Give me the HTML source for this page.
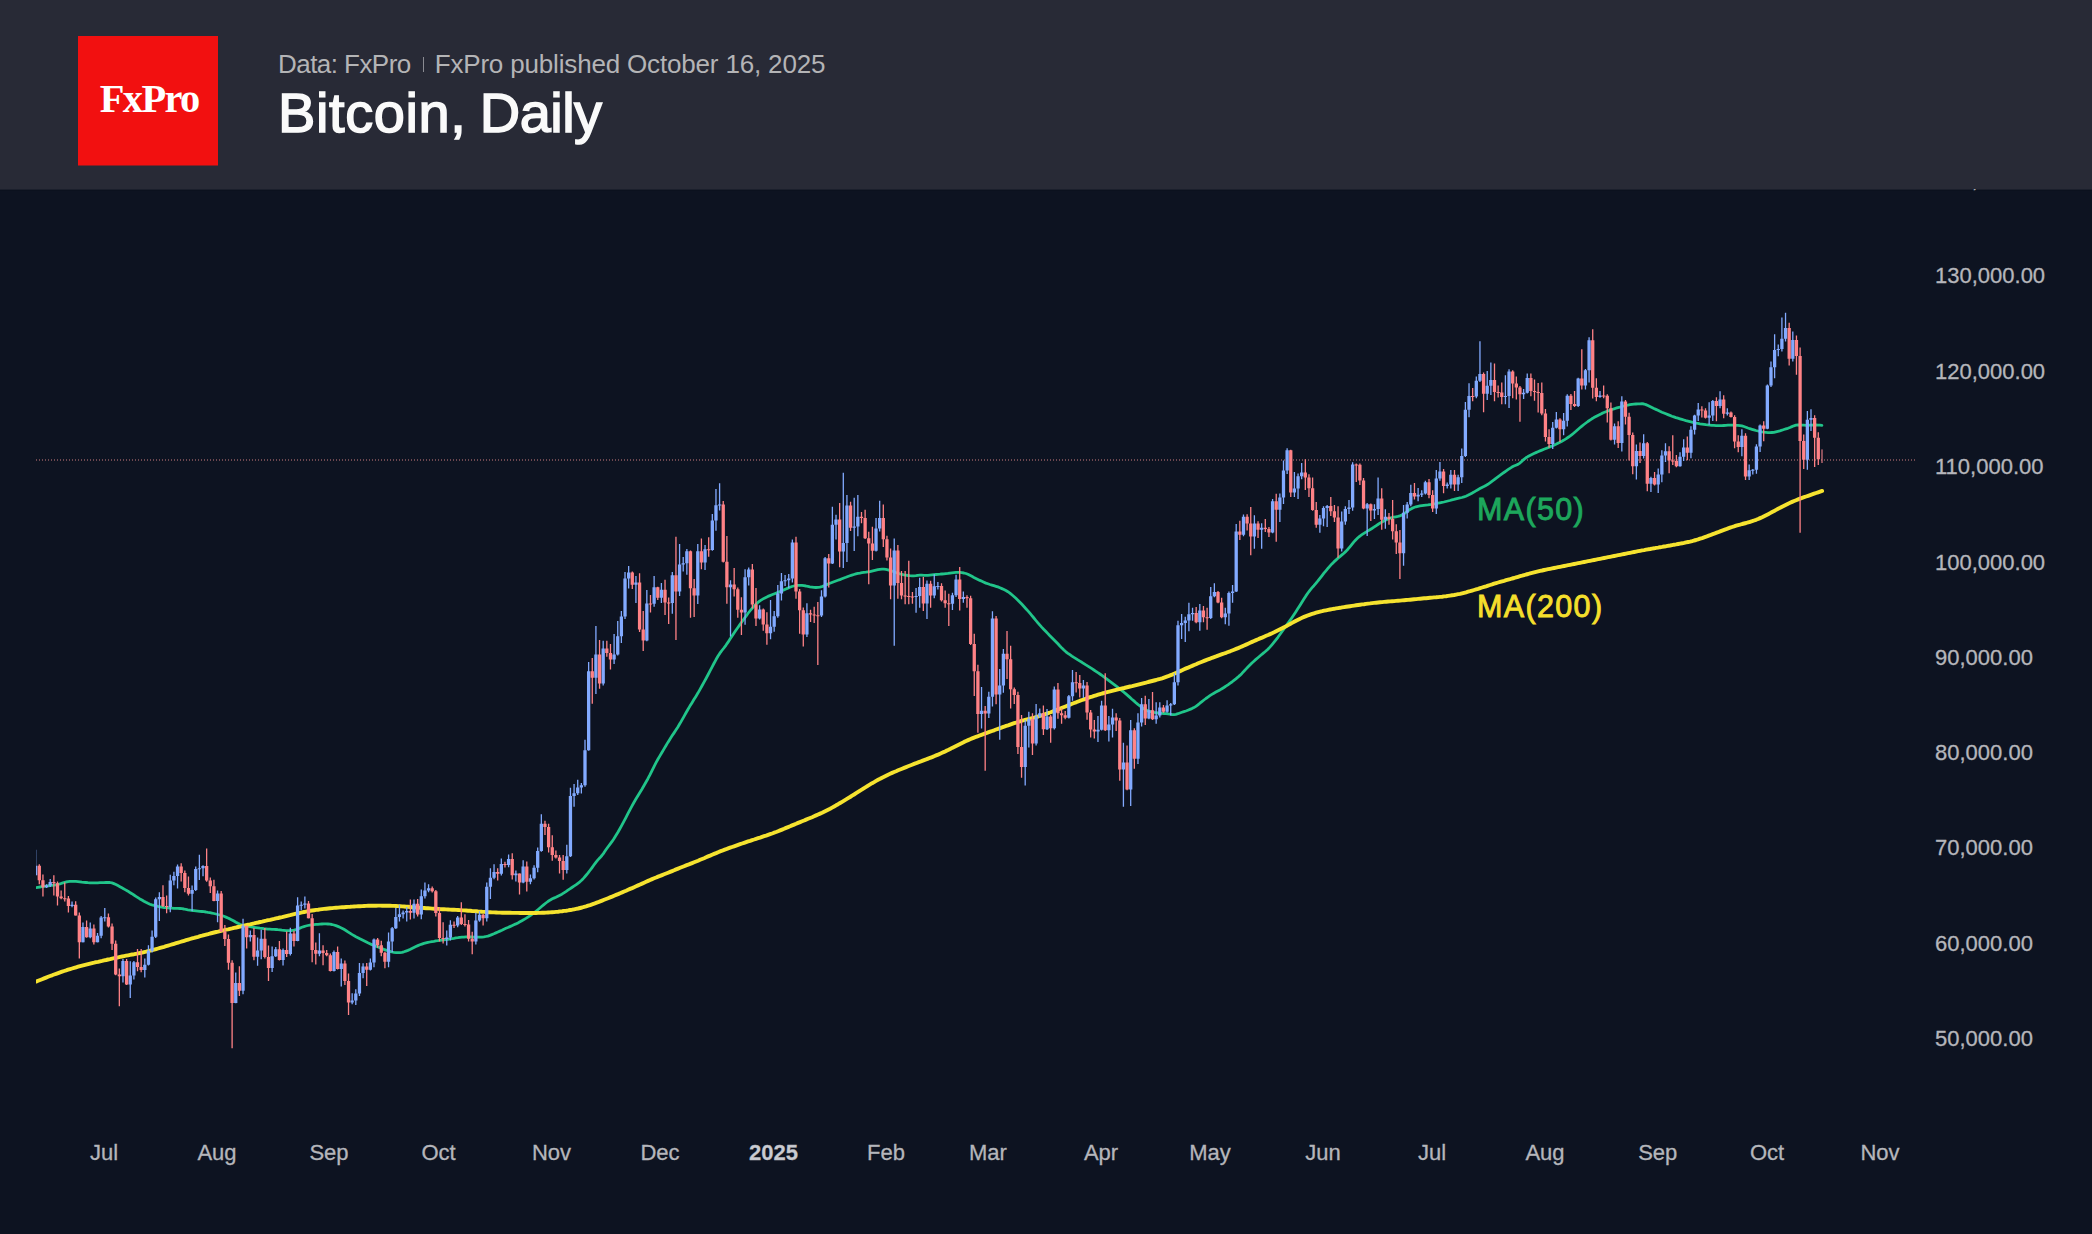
<!DOCTYPE html>
<html><head><meta charset="utf-8"><title>Bitcoin, Daily</title>
<style>
html,body{margin:0;padding:0;background:#0d1321;}
body{width:2092px;height:1234px;position:relative;overflow:hidden;font-family:"Liberation Sans",sans-serif;}
#hdr{position:absolute;left:0;top:0;width:2092px;height:189px;background:#282a36;z-index:2;}
#logo{position:absolute;left:78px;top:36px;width:140px;height:129px;background:#f21010;box-shadow:0 1px 0 #8d1d23;}
#logo span{position:absolute;left:1.2px;width:140px;text-align:center;top:42.7px;line-height:40px;font-family:"Liberation Serif",serif;font-weight:bold;font-size:40.5px;color:#fff;letter-spacing:-1.7px;}
#sub{position:absolute;left:278px;top:49px;font-size:26px;line-height:30px;color:#b4b4b6;white-space:nowrap;transform-origin:0 0;}
#sub i{display:inline-block;width:1px;height:15px;background:#8a8b92;margin:0 11px 0 12px;vertical-align:1px;}
#ttl{position:absolute;left:278px;top:81px;font-size:56px;line-height:64px;color:#fafafa;white-space:nowrap;-webkit-text-stroke:1.5px #fafafa;letter-spacing:0.6px;word-spacing:-2.8px;transform-origin:0 0;}
.yl{position:absolute;left:1935px;font-size:22px;line-height:24px;color:#b5b6bb;white-space:nowrap;-webkit-text-stroke:0.3px #b5b6bb;}
.xl{position:absolute;width:100px;margin-left:-50px;text-align:center;top:1140.5px;font-size:22px;line-height:24px;color:#b5b6bb;white-space:nowrap;-webkit-text-stroke:0.3px #b5b6bb;}
.xl b{color:#c9cbd2;}
.ma{position:absolute;font-size:30.5px;line-height:32px;white-space:nowrap;letter-spacing:1.35px;-webkit-text-stroke:0.9px;}
svg{position:absolute;left:0;top:0;}
</style></head><body>
<svg width="2092" height="1234" viewBox="0 0 2092 1234">
<rect x="0" y="189" width="2092" height="1" fill="#1b1f2c"/><rect x="0" y="190" width="2092" height="1" fill="#0b111e"/>
<clipPath id="cp"><rect x="36" y="191" width="1890" height="930"/></clipPath>
<line x1="36" y1="460" x2="1917" y2="460" stroke="#d07f80" stroke-width="1" stroke-dasharray="1 2"/>
<g clip-path="url(#cp)"><polyline fill="none" stroke="#21c58a" stroke-width="2.8" stroke-linejoin="round" stroke-linecap="round" points="35.9,887.6 37.9,887.3 39.9,887.0 41.9,886.7 43.9,886.4 45.9,886.1 47.9,885.8 49.9,885.5 51.9,885.3 53.9,885.1 55.9,884.8 57.9,884.4 59.9,883.9 61.9,883.2 63.9,882.6 65.9,882.0 67.9,881.7 69.9,881.4 71.9,881.3 73.9,881.3 75.9,881.4 77.9,881.6 79.9,881.9 81.9,882.2 83.9,882.4 85.9,882.5 87.9,882.7 89.9,882.8 91.9,882.8 93.9,882.9 95.9,882.9 97.9,882.8 99.9,882.7 101.9,882.6 103.9,882.6 105.9,882.5 107.9,882.4 109.9,882.5 111.9,882.9 113.9,883.6 115.9,884.5 117.9,885.6 119.9,886.7 121.9,887.8 123.9,888.9 125.9,890.1 127.9,891.2 129.9,892.5 131.9,893.7 133.9,895.0 135.9,896.3 137.9,897.6 139.9,898.9 141.9,900.0 143.9,901.2 145.9,902.3 147.9,903.3 149.9,904.2 151.9,904.9 153.9,905.4 155.9,905.9 157.9,906.4 159.9,906.8 161.9,907.2 163.9,907.5 165.9,907.7 167.9,907.9 169.9,908.1 171.9,908.2 173.9,908.3 175.9,908.4 177.9,908.4 179.9,908.5 181.9,908.7 183.9,909.0 185.9,909.4 187.9,909.8 189.9,910.1 191.9,910.5 193.9,910.7 195.9,910.9 197.9,911.1 199.9,911.3 201.9,911.5 203.9,911.7 205.9,912.0 207.9,912.4 209.9,912.7 211.9,913.1 213.9,913.5 215.9,914.0 217.9,914.5 219.9,915.0 221.9,915.6 223.9,916.3 225.9,917.1 227.9,918.0 229.9,918.9 231.9,919.9 233.9,921.0 235.9,922.2 237.9,923.3 239.9,924.3 241.9,925.0 243.9,925.5 245.9,925.9 247.9,926.3 249.9,926.6 251.9,927.0 253.9,927.3 255.9,927.6 257.9,927.9 259.9,928.2 261.9,928.4 263.9,928.7 265.9,928.9 267.9,929.1 269.9,929.2 271.9,929.3 273.9,929.4 275.9,929.5 277.9,929.7 279.9,929.8 281.9,930.1 283.9,930.3 285.9,930.6 287.9,930.7 289.9,930.7 291.9,930.5 293.9,930.1 295.9,929.6 297.9,928.9 299.9,928.1 301.9,927.3 303.9,926.6 305.9,926.0 307.9,925.5 309.9,925.1 311.9,924.8 313.9,924.6 315.9,924.4 317.9,924.3 319.9,924.1 321.9,924.0 323.9,923.9 325.9,923.9 327.9,924.0 329.9,924.2 331.9,924.5 333.9,925.0 335.9,925.6 337.9,926.4 339.9,927.3 341.9,928.2 343.9,929.3 345.9,930.5 347.9,931.8 349.9,933.1 351.9,934.4 353.9,935.6 355.9,936.7 357.9,937.7 359.9,938.8 361.9,939.8 363.9,940.8 365.9,941.8 367.9,942.8 369.9,943.7 371.9,944.6 373.9,945.4 375.9,946.2 377.9,947.0 379.9,947.8 381.9,948.6 383.9,949.4 385.9,950.1 387.9,950.8 389.9,951.4 391.9,952.0 393.9,952.4 395.9,952.6 397.9,952.7 399.9,952.6 401.9,952.3 403.9,951.8 405.9,951.1 407.9,950.4 409.9,949.5 411.9,948.5 413.9,947.5 415.9,946.5 417.9,945.6 419.9,944.8 421.9,944.1 423.9,943.4 425.9,942.9 427.9,942.4 429.9,942.0 431.9,941.6 433.9,941.3 435.9,940.9 437.9,940.7 439.9,940.4 441.9,940.2 443.9,939.9 445.9,939.7 447.9,939.4 449.9,939.0 451.9,938.6 453.9,938.3 455.9,937.9 457.9,937.7 459.9,937.4 461.9,937.2 463.9,937.1 465.9,936.9 467.9,936.9 469.9,936.9 471.9,937.0 473.9,937.1 475.9,937.2 477.9,937.2 479.9,937.2 481.9,937.1 483.9,936.9 485.9,936.5 487.9,936.1 489.9,935.4 491.9,934.6 493.9,933.8 495.9,932.9 497.9,932.0 499.9,931.1 501.9,930.2 503.9,929.2 505.9,928.3 507.9,927.5 509.9,926.6 511.9,925.7 513.9,924.8 515.9,923.9 517.9,922.9 519.9,921.8 521.9,920.7 523.9,919.6 525.9,918.4 527.9,917.1 529.9,915.8 531.9,914.4 533.9,912.9 535.9,911.4 537.9,909.7 539.9,908.0 541.9,906.3 543.9,904.6 545.9,903.0 547.9,901.5 549.9,900.2 551.9,899.1 553.9,898.1 555.9,897.2 557.9,896.2 559.9,895.2 561.9,894.2 563.9,892.9 565.9,891.6 567.9,890.2 569.9,888.9 571.9,887.5 573.9,886.1 575.9,884.8 577.9,883.3 579.9,881.8 581.9,880.0 583.9,877.9 585.9,875.5 587.9,873.1 589.9,870.5 591.9,867.8 593.9,865.0 595.9,862.3 597.9,859.9 599.9,857.8 601.9,855.5 603.9,852.8 605.9,849.8 607.9,847.0 609.9,844.4 611.9,841.7 613.9,838.7 615.9,835.5 617.9,832.2 619.9,828.7 621.9,825.1 623.9,821.4 625.9,817.6 627.9,813.7 629.9,809.9 631.9,806.2 633.9,802.5 635.9,799.0 637.9,795.7 639.9,792.4 641.9,789.2 643.9,785.8 645.9,782.3 647.9,778.7 649.9,774.9 651.9,770.8 653.9,766.8 655.9,762.9 657.9,759.3 659.9,755.9 661.9,752.5 663.9,749.1 665.9,745.8 667.9,742.4 669.9,739.2 671.9,736.1 673.9,733.1 675.9,730.0 677.9,726.9 679.9,723.6 681.9,720.1 683.9,716.6 685.9,713.0 687.9,709.5 689.9,706.1 691.9,702.9 693.9,699.6 695.9,696.4 697.9,693.1 699.9,689.6 701.9,686.0 703.9,682.3 705.9,678.7 707.9,675.0 709.9,671.2 711.9,667.4 713.9,663.5 715.9,659.8 717.9,656.3 719.9,653.2 721.9,650.5 723.9,648.0 725.9,645.3 727.9,642.4 729.9,639.3 731.9,636.2 733.9,633.2 735.9,630.3 737.9,627.5 739.9,624.6 741.9,621.8 743.9,619.0 745.9,616.3 747.9,613.5 749.9,611.0 751.9,608.6 753.9,606.4 755.9,604.3 757.9,602.4 759.9,600.9 761.9,599.6 763.9,598.4 765.9,597.4 767.9,596.4 769.9,595.6 771.9,594.8 773.9,594.0 775.9,593.2 777.9,592.4 779.9,591.6 781.9,590.7 783.9,589.9 785.9,589.0 787.9,588.1 789.9,587.3 791.9,586.5 793.9,586.0 795.9,585.5 797.9,585.3 799.9,585.3 801.9,585.4 803.9,585.7 805.9,586.0 807.9,586.4 809.9,586.8 811.9,587.1 813.9,587.4 815.9,587.5 817.9,587.4 819.9,587.1 821.9,586.6 823.9,585.9 825.9,585.0 827.9,584.1 829.9,583.3 831.9,582.5 833.9,581.7 835.9,581.0 837.9,580.3 839.9,579.6 841.9,578.8 843.9,578.0 845.9,577.3 847.9,576.5 849.9,575.8 851.9,575.1 853.9,574.5 855.9,573.9 857.9,573.4 859.9,573.1 861.9,572.7 863.9,572.4 865.9,572.2 867.9,571.9 869.9,571.6 871.9,571.1 873.9,570.6 875.9,570.1 877.9,569.6 879.9,569.3 881.9,569.1 883.9,569.2 885.9,569.4 887.9,569.8 889.9,570.4 891.9,571.0 893.9,571.8 895.9,572.5 897.9,573.3 899.9,573.9 901.9,574.4 903.9,574.9 905.9,575.2 907.9,575.5 909.9,575.7 911.9,575.8 913.9,575.8 915.9,575.7 917.9,575.4 919.9,575.2 921.9,575.2 923.9,575.3 925.9,575.4 927.9,575.3 929.9,575.1 931.9,574.9 933.9,574.7 935.9,574.5 937.9,574.3 939.9,574.2 941.9,574.0 943.9,573.8 945.9,573.6 947.9,573.4 949.9,573.1 951.9,572.8 953.9,572.6 955.9,572.4 957.9,572.3 959.9,572.4 961.9,572.7 963.9,573.0 965.9,573.5 967.9,574.3 969.9,575.3 971.9,576.3 973.9,577.4 975.9,578.4 977.9,579.4 979.9,580.4 981.9,581.3 983.9,582.2 985.9,583.1 987.9,583.8 989.9,584.5 991.9,585.1 993.9,585.7 995.9,586.3 997.9,586.9 999.9,587.7 1001.9,588.6 1003.9,589.5 1005.9,590.5 1007.9,591.7 1009.9,593.1 1011.9,594.8 1013.9,596.5 1015.9,598.3 1017.9,600.2 1019.9,602.2 1021.9,604.3 1023.9,606.5 1025.9,608.7 1027.9,610.9 1029.9,613.2 1031.9,615.6 1033.9,618.0 1035.9,620.5 1037.9,622.9 1039.9,625.2 1041.9,627.4 1043.9,629.5 1045.9,631.5 1047.9,633.6 1049.9,635.7 1051.9,637.7 1053.9,639.7 1055.9,641.7 1057.9,643.8 1059.9,646.0 1061.9,648.1 1063.9,650.0 1065.9,651.8 1067.9,653.3 1069.9,654.7 1071.9,656.1 1073.9,657.4 1075.9,658.6 1077.9,659.9 1079.9,661.1 1081.9,662.3 1083.9,663.6 1085.9,664.9 1087.9,666.1 1089.9,667.4 1091.9,668.7 1093.9,670.0 1095.9,671.3 1097.9,672.7 1099.9,674.0 1101.9,675.4 1103.9,676.9 1105.9,678.4 1107.9,679.9 1109.9,681.4 1111.9,682.9 1113.9,684.4 1115.9,685.9 1117.9,687.4 1119.9,689.0 1121.9,690.6 1123.9,692.2 1125.9,693.9 1127.9,695.6 1129.9,697.4 1131.9,699.2 1133.9,700.9 1135.9,702.7 1137.9,704.4 1139.9,706.0 1141.9,707.5 1143.9,708.8 1145.9,709.9 1147.9,710.8 1149.9,711.4 1151.9,711.9 1153.9,712.4 1155.9,712.7 1157.9,713.0 1159.9,713.3 1161.9,713.4 1163.9,713.5 1165.9,713.6 1167.9,713.8 1169.9,714.2 1171.9,714.5 1173.9,714.6 1175.9,714.3 1177.9,713.7 1179.9,713.0 1181.9,712.3 1183.9,711.6 1185.9,711.0 1187.9,710.2 1189.9,709.4 1191.9,708.6 1193.9,707.6 1195.9,706.4 1197.9,704.9 1199.9,703.2 1201.9,701.6 1203.9,700.0 1205.9,698.5 1207.9,697.1 1209.9,695.7 1211.9,694.4 1213.9,693.2 1215.9,692.1 1217.9,691.0 1219.9,689.9 1221.9,688.7 1223.9,687.5 1225.9,686.1 1227.9,684.8 1229.9,683.4 1231.9,682.0 1233.9,680.4 1235.9,678.8 1237.9,677.2 1239.9,675.4 1241.9,673.4 1243.9,671.3 1245.9,669.1 1247.9,667.0 1249.9,665.0 1251.9,663.0 1253.9,661.2 1255.9,659.4 1257.9,657.7 1259.9,656.0 1261.9,654.3 1263.9,652.7 1265.9,651.0 1267.9,649.2 1269.9,647.1 1271.9,644.8 1273.9,642.4 1275.9,639.9 1277.9,637.3 1279.9,634.5 1281.9,631.7 1283.9,628.9 1285.9,626.2 1287.9,623.4 1289.9,620.6 1291.9,617.7 1293.9,614.7 1295.9,611.7 1297.9,608.6 1299.9,605.5 1301.9,602.3 1303.9,599.1 1305.9,595.9 1307.9,593.0 1309.9,590.3 1311.9,587.9 1313.9,585.7 1315.9,583.3 1317.9,580.9 1319.9,578.3 1321.9,575.8 1323.9,573.2 1325.9,570.8 1327.9,568.4 1329.9,566.1 1331.9,563.9 1333.9,561.9 1335.9,560.1 1337.9,558.3 1339.9,556.6 1341.9,554.9 1343.9,553.2 1345.9,551.4 1347.9,549.2 1349.9,546.8 1351.9,544.3 1353.9,541.9 1355.9,539.7 1357.9,537.8 1359.9,536.1 1361.9,534.7 1363.9,533.4 1365.9,532.1 1367.9,530.9 1369.9,529.7 1371.9,528.5 1373.9,527.2 1375.9,525.8 1377.9,524.5 1379.9,523.2 1381.9,522.0 1383.9,520.9 1385.9,519.9 1387.9,519.0 1389.9,518.3 1391.9,517.7 1393.9,517.2 1395.9,516.8 1397.9,516.4 1399.9,515.9 1401.9,515.0 1403.9,513.8 1405.9,512.3 1407.9,510.9 1409.9,509.5 1411.9,508.4 1413.9,507.5 1415.9,506.8 1417.9,506.3 1419.9,505.9 1421.9,505.6 1423.9,505.3 1425.9,505.1 1427.9,504.9 1429.9,504.6 1431.9,504.3 1433.9,503.9 1435.9,503.6 1437.9,503.2 1439.9,502.8 1441.9,502.4 1443.9,502.0 1445.9,501.5 1447.9,501.0 1449.9,500.5 1451.9,499.9 1453.9,499.4 1455.9,498.8 1457.9,498.3 1459.9,497.9 1461.9,497.5 1463.9,496.9 1465.9,496.2 1467.9,495.3 1469.9,494.3 1471.9,493.2 1473.9,492.1 1475.9,490.9 1477.9,489.7 1479.9,488.6 1481.9,487.5 1483.9,486.5 1485.9,485.4 1487.9,484.3 1489.9,482.9 1491.9,481.4 1493.9,479.9 1495.9,478.3 1497.9,476.8 1499.9,475.4 1501.9,473.9 1503.9,472.5 1505.9,471.1 1507.9,469.7 1509.9,468.4 1511.9,467.1 1513.9,466.0 1515.9,465.2 1517.9,464.4 1519.9,463.1 1521.9,461.2 1523.9,459.3 1525.9,457.8 1527.9,456.6 1529.9,455.5 1531.9,454.5 1533.9,453.5 1535.9,452.6 1537.9,451.7 1539.9,450.9 1541.9,450.1 1543.9,449.3 1545.9,448.5 1547.9,447.7 1549.9,446.9 1551.9,446.0 1553.9,445.2 1555.9,444.3 1557.9,443.3 1559.9,442.3 1561.9,441.2 1563.9,440.1 1565.9,438.9 1567.9,437.5 1569.9,436.1 1571.9,434.6 1573.9,433.0 1575.9,431.3 1577.9,429.5 1579.9,427.8 1581.9,426.1 1583.9,424.5 1585.9,423.0 1587.9,421.5 1589.9,420.1 1591.9,418.8 1593.9,417.6 1595.9,416.5 1597.9,415.4 1599.9,414.4 1601.9,413.4 1603.9,412.5 1605.9,411.7 1607.9,410.9 1609.9,410.2 1611.9,409.5 1613.9,408.9 1615.9,408.2 1617.9,407.6 1619.9,407.1 1621.9,406.5 1623.9,406.0 1625.9,405.5 1627.9,405.1 1629.9,404.7 1631.9,404.4 1633.9,404.2 1635.9,404.0 1637.9,403.9 1639.9,403.8 1641.9,403.7 1643.9,404.0 1645.9,404.6 1647.9,405.5 1649.9,406.5 1651.9,407.5 1653.9,408.5 1655.9,409.4 1657.9,410.3 1659.9,411.3 1661.9,412.2 1663.9,413.0 1665.9,413.8 1667.9,414.6 1669.9,415.4 1671.9,416.2 1673.9,416.9 1675.9,417.6 1677.9,418.2 1679.9,418.8 1681.9,419.4 1683.9,420.0 1685.9,420.6 1687.9,421.1 1689.9,421.6 1691.9,422.1 1693.9,422.6 1695.9,423.1 1697.9,423.4 1699.9,423.8 1701.9,424.1 1703.9,424.4 1705.9,424.7 1707.9,424.9 1709.9,425.1 1711.9,425.3 1713.9,425.4 1715.9,425.6 1717.9,425.7 1719.9,425.7 1721.9,425.6 1723.9,425.5 1725.9,425.4 1727.9,425.2 1729.9,425.2 1731.9,425.1 1733.9,425.2 1735.9,425.3 1737.9,425.4 1739.9,425.6 1741.9,425.9 1743.9,426.5 1745.9,427.2 1747.9,428.0 1749.9,428.7 1751.9,429.3 1753.9,429.9 1755.9,430.5 1757.9,431.0 1759.9,431.5 1761.9,431.9 1763.9,432.2 1765.9,432.4 1767.9,432.6 1769.9,432.7 1771.9,432.5 1773.9,432.3 1775.9,431.8 1777.9,431.3 1779.9,430.8 1781.9,430.2 1783.9,429.5 1785.9,428.9 1787.9,428.3 1789.9,427.5 1791.9,426.6 1793.9,425.8 1795.9,425.2 1797.9,425.0 1799.9,425.0 1801.9,425.1 1803.9,425.2 1805.9,425.3 1807.9,425.3 1809.9,425.2 1811.9,425.1 1813.9,425.0 1815.9,425.0 1817.9,425.1 1819.9,425.2 1821.9,425.4"/>
<polyline fill="none" stroke="#f6e32f" stroke-width="3.9" stroke-linejoin="round" stroke-linecap="round" points="36.1,981.6 38.1,980.8 40.1,980.0 42.1,979.2 44.1,978.4 46.1,977.6 48.1,976.8 50.1,976.0 52.1,975.3 54.1,974.5 56.1,973.8 58.1,973.1 60.1,972.4 62.1,971.7 64.1,971.0 66.1,970.4 68.1,969.7 70.1,969.1 72.1,968.5 74.1,967.9 76.1,967.3 78.1,966.7 80.1,966.1 82.1,965.6 84.1,965.1 86.1,964.6 88.1,964.1 90.1,963.6 92.1,963.1 94.1,962.7 96.1,962.2 98.1,961.8 100.1,961.3 102.1,960.9 104.1,960.4 106.1,960.0 108.1,959.5 110.1,959.1 112.1,958.6 114.1,958.2 116.1,957.8 118.1,957.3 120.1,956.9 122.1,956.5 124.1,956.1 126.1,955.7 128.1,955.3 130.1,954.9 132.1,954.5 134.1,954.2 136.1,953.8 138.1,953.4 140.1,953.0 142.1,952.6 144.1,952.1 146.1,951.7 148.1,951.2 150.1,950.7 152.1,950.2 154.1,949.7 156.1,949.1 158.1,948.5 160.1,947.9 162.1,947.3 164.1,946.8 166.1,946.2 168.1,945.6 170.1,945.0 172.1,944.4 174.1,943.8 176.1,943.2 178.1,942.6 180.1,942.0 182.1,941.4 184.1,940.8 186.1,940.2 188.1,939.6 190.1,939.0 192.1,938.4 194.1,937.9 196.1,937.3 198.1,936.8 200.1,936.2 202.1,935.7 204.1,935.1 206.1,934.6 208.1,934.1 210.1,933.5 212.1,933.0 214.1,932.5 216.1,932.0 218.1,931.6 220.1,931.1 222.1,930.6 224.1,930.2 226.1,929.7 228.1,929.3 230.1,928.8 232.1,928.4 234.1,927.9 236.1,927.5 238.1,927.0 240.1,926.6 242.1,926.1 244.1,925.7 246.1,925.2 248.1,924.7 250.1,924.3 252.1,923.8 254.1,923.4 256.1,922.9 258.1,922.5 260.1,922.0 262.1,921.6 264.1,921.1 266.1,920.7 268.1,920.2 270.1,919.8 272.1,919.3 274.1,918.9 276.1,918.4 278.1,918.0 280.1,917.5 282.1,917.1 284.1,916.6 286.1,916.1 288.1,915.6 290.1,915.2 292.1,914.7 294.1,914.2 296.1,913.7 298.1,913.3 300.1,912.8 302.1,912.4 304.1,912.0 306.1,911.6 308.1,911.2 310.1,910.8 312.1,910.5 314.1,910.2 316.1,909.9 318.1,909.7 320.1,909.4 322.1,909.1 324.1,908.9 326.1,908.7 328.1,908.5 330.1,908.3 332.1,908.1 334.1,907.9 336.1,907.7 338.1,907.6 340.1,907.4 342.1,907.3 344.1,907.2 346.1,907.0 348.1,906.9 350.1,906.8 352.1,906.6 354.1,906.5 356.1,906.4 358.1,906.3 360.1,906.2 362.1,906.1 364.1,906.0 366.1,905.9 368.1,905.8 370.1,905.8 372.1,905.7 374.1,905.7 376.1,905.7 378.1,905.6 380.1,905.6 382.1,905.7 384.1,905.7 386.1,905.7 388.1,905.7 390.1,905.8 392.1,905.9 394.1,905.9 396.1,906.0 398.1,906.1 400.1,906.2 402.1,906.4 404.1,906.5 406.1,906.7 408.1,906.8 410.1,907.0 412.1,907.2 414.1,907.3 416.1,907.5 418.1,907.6 420.1,907.8 422.1,907.9 424.1,908.0 426.1,908.2 428.1,908.3 430.1,908.4 432.1,908.6 434.1,908.7 436.1,908.8 438.1,908.9 440.1,909.1 442.1,909.2 444.1,909.3 446.1,909.4 448.1,909.5 450.1,909.6 452.1,909.7 454.1,909.8 456.1,909.9 458.1,910.0 460.1,910.1 462.1,910.3 464.1,910.4 466.1,910.5 468.1,910.7 470.1,910.8 472.1,911.0 474.1,911.1 476.1,911.3 478.1,911.5 480.1,911.6 482.1,911.8 484.1,911.9 486.1,912.0 488.1,912.2 490.1,912.3 492.1,912.4 494.1,912.4 496.1,912.5 498.1,912.6 500.1,912.6 502.1,912.7 504.1,912.7 506.1,912.8 508.1,912.8 510.1,912.8 512.1,912.9 514.1,912.9 516.1,912.9 518.1,912.9 520.1,913.0 522.1,913.0 524.1,913.0 526.1,913.0 528.1,913.0 530.1,913.0 532.1,913.0 534.1,913.0 536.1,913.0 538.1,912.9 540.1,912.9 542.1,912.8 544.1,912.7 546.1,912.6 548.1,912.5 550.1,912.4 552.1,912.2 554.1,912.1 556.1,911.9 558.1,911.7 560.1,911.4 562.1,911.2 564.1,910.9 566.1,910.7 568.1,910.4 570.1,910.0 572.1,909.7 574.1,909.3 576.1,908.9 578.1,908.5 580.1,908.0 582.1,907.5 584.1,906.9 586.1,906.4 588.1,905.7 590.1,905.1 592.1,904.4 594.1,903.7 596.1,902.9 598.1,902.2 600.1,901.4 602.1,900.6 604.1,899.8 606.1,899.0 608.1,898.2 610.1,897.4 612.1,896.6 614.1,895.7 616.1,894.9 618.1,894.1 620.1,893.2 622.1,892.4 624.1,891.5 626.1,890.7 628.1,889.8 630.1,888.9 632.1,888.1 634.1,887.2 636.1,886.3 638.1,885.4 640.1,884.5 642.1,883.6 644.1,882.7 646.1,881.8 648.1,880.9 650.1,880.0 652.1,879.1 654.1,878.3 656.1,877.5 658.1,876.6 660.1,875.9 662.1,875.1 664.1,874.3 666.1,873.5 668.1,872.7 670.1,871.9 672.1,871.1 674.1,870.3 676.1,869.4 678.1,868.6 680.1,867.8 682.1,867.0 684.1,866.2 686.1,865.4 688.1,864.7 690.1,863.9 692.1,863.1 694.1,862.3 696.1,861.5 698.1,860.7 700.1,859.8 702.1,859.0 704.1,858.2 706.1,857.3 708.1,856.4 710.1,855.6 712.1,854.7 714.1,853.9 716.1,853.1 718.1,852.2 720.1,851.4 722.1,850.7 724.1,849.9 726.1,849.2 728.1,848.4 730.1,847.7 732.1,847.0 734.1,846.3 736.1,845.6 738.1,844.9 740.1,844.2 742.1,843.5 744.1,842.8 746.1,842.1 748.1,841.4 750.1,840.8 752.1,840.1 754.1,839.5 756.1,838.8 758.1,838.2 760.1,837.6 762.1,836.9 764.1,836.2 766.1,835.6 768.1,834.9 770.1,834.2 772.1,833.5 774.1,832.7 776.1,832.0 778.1,831.2 780.1,830.4 782.1,829.6 784.1,828.8 786.1,827.9 788.1,827.1 790.1,826.3 792.1,825.4 794.1,824.6 796.1,823.8 798.1,822.9 800.1,822.1 802.1,821.3 804.1,820.5 806.1,819.6 808.1,818.8 810.1,818.0 812.1,817.2 814.1,816.3 816.1,815.4 818.1,814.5 820.1,813.6 822.1,812.7 824.1,811.7 826.1,810.7 828.1,809.7 830.1,808.7 832.1,807.6 834.1,806.5 836.1,805.3 838.1,804.2 840.1,803.0 842.1,801.8 844.1,800.6 846.1,799.4 848.1,798.2 850.1,797.0 852.1,795.7 854.1,794.5 856.1,793.2 858.1,791.9 860.1,790.6 862.1,789.4 864.1,788.1 866.1,786.9 868.1,785.6 870.1,784.4 872.1,783.2 874.1,782.1 876.1,780.9 878.1,779.8 880.1,778.8 882.1,777.7 884.1,776.7 886.1,775.7 888.1,774.7 890.1,773.8 892.1,772.9 894.1,772.0 896.1,771.2 898.1,770.3 900.1,769.5 902.1,768.7 904.1,767.9 906.1,767.1 908.1,766.3 910.1,765.5 912.1,764.7 914.1,763.9 916.1,763.2 918.1,762.4 920.1,761.7 922.1,760.9 924.1,760.1 926.1,759.4 928.1,758.6 930.1,757.8 932.1,757.1 934.1,756.2 936.1,755.4 938.1,754.6 940.1,753.7 942.1,752.8 944.1,751.9 946.1,750.9 948.1,750.0 950.1,749.0 952.1,747.9 954.1,746.9 956.1,745.9 958.1,744.9 960.1,743.9 962.1,742.9 964.1,741.9 966.1,741.0 968.1,740.1 970.1,739.2 972.1,738.4 974.1,737.6 976.1,736.8 978.1,736.1 980.1,735.3 982.1,734.6 984.1,733.9 986.1,733.2 988.1,732.4 990.1,731.7 992.1,731.0 994.1,730.3 996.1,729.5 998.1,728.8 1000.1,728.1 1002.1,727.4 1004.1,726.7 1006.1,725.9 1008.1,725.3 1010.1,724.6 1012.1,723.9 1014.1,723.2 1016.1,722.6 1018.1,721.9 1020.1,721.3 1022.1,720.7 1024.1,720.2 1026.1,719.6 1028.1,719.1 1030.1,718.6 1032.1,718.1 1034.1,717.6 1036.1,717.0 1038.1,716.5 1040.1,715.9 1042.1,715.3 1044.1,714.6 1046.1,713.9 1048.1,713.2 1050.1,712.5 1052.1,711.7 1054.1,710.9 1056.1,710.1 1058.1,709.4 1060.1,708.6 1062.1,707.8 1064.1,707.0 1066.1,706.2 1068.1,705.4 1070.1,704.6 1072.1,703.8 1074.1,703.0 1076.1,702.3 1078.1,701.5 1080.1,700.7 1082.1,700.0 1084.1,699.3 1086.1,698.6 1088.1,697.9 1090.1,697.2 1092.1,696.6 1094.1,695.9 1096.1,695.3 1098.1,694.7 1100.1,694.1 1102.1,693.5 1104.1,693.0 1106.1,692.4 1108.1,691.9 1110.1,691.4 1112.1,690.9 1114.1,690.4 1116.1,689.9 1118.1,689.4 1120.1,688.9 1122.1,688.4 1124.1,688.0 1126.1,687.5 1128.1,687.0 1130.1,686.5 1132.1,686.1 1134.1,685.6 1136.1,685.1 1138.1,684.6 1140.1,684.1 1142.1,683.6 1144.1,683.1 1146.1,682.6 1148.1,682.0 1150.1,681.5 1152.1,681.0 1154.1,680.5 1156.1,680.0 1158.1,679.4 1160.1,678.9 1162.1,678.3 1164.1,677.6 1166.1,676.9 1168.1,676.2 1170.1,675.4 1172.1,674.6 1174.1,673.7 1176.1,672.9 1178.1,672.0 1180.1,671.1 1182.1,670.2 1184.1,669.3 1186.1,668.4 1188.1,667.6 1190.1,666.7 1192.1,665.9 1194.1,665.0 1196.1,664.2 1198.1,663.3 1200.1,662.5 1202.1,661.7 1204.1,660.9 1206.1,660.1 1208.1,659.3 1210.1,658.6 1212.1,657.8 1214.1,657.1 1216.1,656.4 1218.1,655.6 1220.1,654.9 1222.1,654.2 1224.1,653.5 1226.1,652.8 1228.1,652.0 1230.1,651.3 1232.1,650.5 1234.1,649.7 1236.1,648.9 1238.1,648.1 1240.1,647.2 1242.1,646.4 1244.1,645.5 1246.1,644.6 1248.1,643.7 1250.1,642.8 1252.1,641.9 1254.1,641.0 1256.1,640.1 1258.1,639.3 1260.1,638.4 1262.1,637.6 1264.1,636.7 1266.1,635.8 1268.1,635.0 1270.1,634.1 1272.1,633.2 1274.1,632.3 1276.1,631.3 1278.1,630.3 1280.1,629.3 1282.1,628.3 1284.1,627.2 1286.1,626.2 1288.1,625.1 1290.1,624.0 1292.1,622.9 1294.1,621.8 1296.1,620.7 1298.1,619.7 1300.1,618.7 1302.1,617.8 1304.1,616.9 1306.1,616.1 1308.1,615.3 1310.1,614.6 1312.1,613.9 1314.1,613.3 1316.1,612.7 1318.1,612.1 1320.1,611.6 1322.1,611.2 1324.1,610.7 1326.1,610.3 1328.1,609.9 1330.1,609.5 1332.1,609.1 1334.1,608.8 1336.1,608.4 1338.1,608.1 1340.1,607.8 1342.1,607.4 1344.1,607.1 1346.1,606.8 1348.1,606.5 1350.1,606.2 1352.1,605.9 1354.1,605.6 1356.1,605.3 1358.1,605.0 1360.1,604.7 1362.1,604.4 1364.1,604.2 1366.1,603.9 1368.1,603.6 1370.1,603.4 1372.1,603.1 1374.1,602.9 1376.1,602.7 1378.1,602.5 1380.1,602.3 1382.1,602.1 1384.1,601.9 1386.1,601.7 1388.1,601.5 1390.1,601.4 1392.1,601.2 1394.1,601.1 1396.1,600.9 1398.1,600.7 1400.1,600.6 1402.1,600.4 1404.1,600.2 1406.1,600.0 1408.1,599.9 1410.1,599.7 1412.1,599.5 1414.1,599.3 1416.1,599.1 1418.1,598.9 1420.1,598.7 1422.1,598.5 1424.1,598.3 1426.1,598.2 1428.1,598.0 1430.1,597.8 1432.1,597.6 1434.1,597.4 1436.1,597.3 1438.1,597.1 1440.1,596.9 1442.1,596.7 1444.1,596.4 1446.1,596.2 1448.1,595.9 1450.1,595.6 1452.1,595.3 1454.1,595.0 1456.1,594.6 1458.1,594.2 1460.1,593.8 1462.1,593.3 1464.1,592.8 1466.1,592.3 1468.1,591.7 1470.1,591.2 1472.1,590.6 1474.1,590.0 1476.1,589.4 1478.1,588.8 1480.1,588.1 1482.1,587.5 1484.1,586.9 1486.1,586.3 1488.1,585.6 1490.1,585.0 1492.1,584.4 1494.1,583.7 1496.1,583.1 1498.1,582.5 1500.1,581.9 1502.1,581.3 1504.1,580.8 1506.1,580.2 1508.1,579.6 1510.1,579.1 1512.1,578.5 1514.1,578.0 1516.1,577.4 1518.1,576.8 1520.1,576.2 1522.1,575.7 1524.1,575.1 1526.1,574.5 1528.1,574.0 1530.1,573.4 1532.1,572.9 1534.1,572.4 1536.1,571.9 1538.1,571.4 1540.1,570.9 1542.1,570.5 1544.1,570.0 1546.1,569.6 1548.1,569.2 1550.1,568.8 1552.1,568.4 1554.1,568.0 1556.1,567.6 1558.1,567.2 1560.1,566.8 1562.1,566.4 1564.1,566.0 1566.1,565.6 1568.1,565.2 1570.1,564.8 1572.1,564.4 1574.1,564.0 1576.1,563.6 1578.1,563.2 1580.1,562.8 1582.1,562.4 1584.1,562.0 1586.1,561.6 1588.1,561.2 1590.1,560.8 1592.1,560.4 1594.1,560.0 1596.1,559.6 1598.1,559.2 1600.1,558.8 1602.1,558.4 1604.1,558.0 1606.1,557.6 1608.1,557.2 1610.1,556.8 1612.1,556.4 1614.1,556.0 1616.1,555.6 1618.1,555.2 1620.1,554.8 1622.1,554.4 1624.1,554.0 1626.1,553.6 1628.1,553.2 1630.1,552.8 1632.1,552.4 1634.1,552.0 1636.1,551.6 1638.1,551.2 1640.1,550.8 1642.1,550.4 1644.1,550.1 1646.1,549.7 1648.1,549.3 1650.1,549.0 1652.1,548.6 1654.1,548.3 1656.1,547.9 1658.1,547.6 1660.1,547.2 1662.1,546.9 1664.1,546.5 1666.1,546.2 1668.1,545.8 1670.1,545.5 1672.1,545.1 1674.1,544.7 1676.1,544.4 1678.1,544.0 1680.1,543.6 1682.1,543.3 1684.1,542.9 1686.1,542.4 1688.1,542.0 1690.1,541.6 1692.1,541.1 1694.1,540.5 1696.1,540.0 1698.1,539.4 1700.1,538.7 1702.1,538.1 1704.1,537.4 1706.1,536.7 1708.1,535.9 1710.1,535.2 1712.1,534.4 1714.1,533.7 1716.1,532.9 1718.1,532.2 1720.1,531.4 1722.1,530.6 1724.1,529.9 1726.1,529.2 1728.1,528.4 1730.1,527.7 1732.1,527.0 1734.1,526.4 1736.1,525.7 1738.1,525.1 1740.1,524.6 1742.1,524.0 1744.1,523.5 1746.1,523.0 1748.1,522.4 1750.1,521.8 1752.1,521.2 1754.1,520.5 1756.1,519.8 1758.1,519.0 1760.1,518.1 1762.1,517.2 1764.1,516.2 1766.1,515.2 1768.1,514.2 1770.1,513.1 1772.1,512.0 1774.1,511.0 1776.1,509.9 1778.1,508.8 1780.1,507.8 1782.1,506.7 1784.1,505.7 1786.1,504.7 1788.1,503.7 1790.1,502.8 1792.1,501.9 1794.1,501.0 1796.1,500.2 1798.1,499.4 1800.1,498.6 1802.1,497.9 1804.1,497.2 1806.1,496.5 1808.1,495.8 1810.1,495.1 1812.1,494.4 1814.1,493.7 1816.1,493.0 1818.1,492.3 1820.1,491.6 1822.1,490.9"/></g>
<g clip-path="url(#cp)"><path fill="#82aaff" d="M34.01 865.7h3.3V875.2h-3.3zM35.01 849.7h1.3V875.5h-1.3zM44.92 885.4h3.3V887.2h-3.3zM45.92 884.3h1.3V888.1h-1.3zM48.56 882.1h3.3V885.4h-3.3zM49.56 878.9h1.3V886.9h-1.3zM70.39 904.7h3.3V905.9h-3.3zM71.39 901.5h1.3V907.3h-1.3zM81.30 927.0h3.3V942.3h-3.3zM82.30 922.6h1.3V942.6h-1.3zM88.58 928.5h3.3V937.2h-3.3zM89.58 922.6h1.3V938.3h-1.3zM95.86 935.8h3.3V942.3h-3.3zM96.86 932.9h1.3V942.6h-1.3zM99.49 917.5h3.3V935.8h-3.3zM100.49 916.1h1.3V938.3h-1.3zM103.13 917.2h3.3V918.2h-3.3zM104.13 908.1h1.3V921.6h-1.3zM121.32 960.9h3.3V976.3h-3.3zM122.32 959.1h1.3V982.5h-1.3zM128.60 975.5h3.3V984.4h-3.3zM129.60 961.3h1.3V998.1h-1.3zM132.24 962.3h3.3V975.5h-3.3zM133.24 961.0h1.3V979.5h-1.3zM143.15 964.8h3.3V970.1h-3.3zM144.15 958.4h1.3V977.4h-1.3zM146.79 950.7h3.3V964.8h-3.3zM147.79 945.3h1.3V965.4h-1.3zM150.43 936.7h3.3V950.7h-3.3zM151.43 930.6h1.3V952.4h-1.3zM154.06 899.2h3.3V936.7h-3.3zM155.06 897.5h1.3V937.9h-1.3zM157.70 897.0h3.3V899.2h-3.3zM158.70 892.3h1.3V921.0h-1.3zM168.62 880.4h3.3V907.1h-3.3zM169.62 874.8h1.3V912.3h-1.3zM172.25 876.1h3.3V880.4h-3.3zM173.25 871.7h1.3V885.3h-1.3zM175.89 866.5h3.3V876.1h-3.3zM176.89 864.4h1.3V888.4h-1.3zM190.44 890.0h3.3V893.7h-3.3zM191.44 885.6h1.3V911.1h-1.3zM194.08 869.1h3.3V890.0h-3.3zM195.08 866.5h1.3V890.9h-1.3zM197.72 868.2h3.3V869.2h-3.3zM198.72 854.8h1.3V880.1h-1.3zM201.36 866.1h3.3V868.2h-3.3zM202.36 865.3h1.3V876.2h-1.3zM215.91 893.5h3.3V901.0h-3.3zM216.91 890.5h1.3V922.2h-1.3zM234.10 982.9h3.3V1002.9h-3.3zM235.10 972.4h1.3V1003.2h-1.3zM241.38 925.7h3.3V990.7h-3.3zM242.38 918.7h1.3V994.2h-1.3zM248.65 934.9h3.3V937.2h-3.3zM249.65 930.6h1.3V941.4h-1.3zM255.93 950.5h3.3V956.7h-3.3zM256.93 937.6h1.3V965.8h-1.3zM259.57 938.8h3.3V950.5h-3.3zM260.57 929.7h1.3V959.3h-1.3zM270.48 956.2h3.3V968.0h-3.3zM271.48 946.6h1.3V972.1h-1.3zM274.12 949.2h3.3V956.2h-3.3zM275.12 947.1h1.3V957.1h-1.3zM281.39 950.1h3.3V959.9h-3.3zM282.39 948.4h1.3V965.4h-1.3zM288.67 933.5h3.3V954.1h-3.3zM289.67 927.7h1.3V955.6h-1.3zM295.95 905.5h3.3V941.0h-3.3zM296.95 897.2h1.3V941.3h-1.3zM299.58 904.7h3.3V905.7h-3.3zM300.58 901.4h1.3V910.2h-1.3zM303.22 903.4h3.3V904.7h-3.3zM304.22 896.6h1.3V908.6h-1.3zM317.77 950.6h3.3V953.7h-3.3zM318.77 933.3h1.3V956.2h-1.3zM332.33 951.9h3.3V970.9h-3.3zM333.33 950.4h1.3V971.4h-1.3zM339.60 963.6h3.3V968.9h-3.3zM340.60 958.4h1.3V986.4h-1.3zM350.52 1000.5h3.3V1002.6h-3.3zM351.52 993.2h1.3V1004.2h-1.3zM354.15 993.4h3.3V1000.5h-3.3zM355.15 989.3h1.3V1005.1h-1.3zM357.79 972.9h3.3V993.4h-3.3zM358.79 963.1h1.3V996.0h-1.3zM361.43 966.4h3.3V972.9h-3.3zM362.43 963.3h1.3V978.2h-1.3zM368.71 962.6h3.3V969.8h-3.3zM369.71 958.4h1.3V970.5h-1.3zM372.34 939.6h3.3V962.6h-3.3zM373.34 938.4h1.3V967.2h-1.3zM386.90 941.6h3.3V961.8h-3.3zM387.90 932.5h1.3V967.2h-1.3zM390.53 928.3h3.3V941.6h-3.3zM391.53 927.0h1.3V952.3h-1.3zM394.17 916.9h3.3V928.3h-3.3zM395.17 907.9h1.3V929.0h-1.3zM397.81 914.3h3.3V916.9h-3.3zM398.81 904.7h1.3V921.6h-1.3zM401.45 912.4h3.3V914.3h-3.3zM402.45 910.4h1.3V918.6h-1.3zM405.09 911.1h3.3V912.4h-3.3zM406.09 906.9h1.3V921.6h-1.3zM412.36 903.7h3.3V912.8h-3.3zM413.36 899.6h1.3V918.6h-1.3zM419.64 896.2h3.3V914.6h-3.3zM420.64 889.4h1.3V919.3h-1.3zM423.28 890.4h3.3V896.2h-3.3zM424.28 882.4h1.3V898.4h-1.3zM426.91 888.2h3.3V890.4h-3.3zM427.91 884.3h1.3V892.3h-1.3zM445.10 937.5h3.3V939.0h-3.3zM446.10 930.5h1.3V945.5h-1.3zM448.74 924.7h3.3V937.5h-3.3zM449.74 920.3h1.3V940.4h-1.3zM456.02 917.4h3.3V925.5h-3.3zM457.02 915.9h1.3V927.3h-1.3zM474.21 920.6h3.3V941.6h-3.3zM475.21 912.7h1.3V944.5h-1.3zM477.85 914.8h3.3V920.6h-3.3zM478.85 911.3h1.3V921.8h-1.3zM485.12 886.8h3.3V918.3h-3.3zM486.12 882.4h1.3V921.5h-1.3zM488.76 877.7h3.3V886.8h-3.3zM489.76 868.2h1.3V898.9h-1.3zM492.40 871.9h3.3V877.7h-3.3zM493.40 864.3h1.3V879.2h-1.3zM499.67 864.1h3.3V873.8h-3.3zM500.67 858.5h1.3V875.5h-1.3zM506.95 859.0h3.3V865.0h-3.3zM507.95 854.4h1.3V867.2h-1.3zM514.23 873.6h3.3V875.2h-3.3zM515.23 870.4h1.3V881.4h-1.3zM521.50 866.6h3.3V882.5h-3.3zM522.50 860.2h1.3V883.3h-1.3zM528.78 878.3h3.3V881.8h-3.3zM529.78 874.5h1.3V884.3h-1.3zM532.42 867.8h3.3V878.3h-3.3zM533.42 865.3h1.3V879.5h-1.3zM536.05 851.0h3.3V867.8h-3.3zM537.05 847.4h1.3V872.2h-1.3zM539.69 823.8h3.3V851.0h-3.3zM540.69 814.3h1.3V851.8h-1.3zM565.16 856.2h3.3V869.9h-3.3zM566.16 844.7h1.3V873.4h-1.3zM568.80 796.1h3.3V856.2h-3.3zM569.80 787.8h1.3V857.1h-1.3zM572.43 793.2h3.3V796.1h-3.3zM573.43 783.9h1.3V806.8h-1.3zM576.07 787.4h3.3V793.2h-3.3zM577.07 779.8h1.3V795.1h-1.3zM579.71 785.2h3.3V787.4h-3.3zM580.71 783.0h1.3V793.6h-1.3zM583.35 750.2h3.3V785.2h-3.3zM584.35 739.7h1.3V786.8h-1.3zM586.99 671.3h3.3V750.2h-3.3zM587.99 661.9h1.3V750.7h-1.3zM594.26 654.6h3.3V677.7h-3.3zM595.26 625.9h1.3V693.9h-1.3zM601.54 648.6h3.3V683.6h-3.3zM602.54 640.8h1.3V685.5h-1.3zM612.45 654.6h3.3V659.6h-3.3zM613.45 634.0h1.3V664.0h-1.3zM616.09 636.3h3.3V654.6h-3.3zM617.09 621.0h1.3V655.4h-1.3zM619.73 616.5h3.3V636.3h-3.3zM620.73 611.0h1.3V642.9h-1.3zM623.37 578.4h3.3V616.5h-3.3zM624.37 572.1h1.3V619.1h-1.3zM627.00 572.4h3.3V578.4h-3.3zM628.00 565.9h1.3V588.6h-1.3zM634.28 582.5h3.3V584.7h-3.3zM635.28 576.0h1.3V602.9h-1.3zM645.19 603.5h3.3V640.5h-3.3zM646.19 589.9h1.3V641.3h-1.3zM652.47 587.3h3.3V603.8h-3.3zM653.47 576.0h1.3V606.8h-1.3zM659.75 589.7h3.3V597.7h-3.3zM660.75 582.9h1.3V602.9h-1.3zM670.66 575.2h3.3V602.9h-3.3zM671.66 572.1h1.3V613.7h-1.3zM677.94 564.6h3.3V591.5h-3.3zM678.94 544.1h1.3V595.9h-1.3zM681.57 563.3h3.3V564.6h-3.3zM682.57 557.0h1.3V571.6h-1.3zM685.21 551.3h3.3V563.3h-3.3zM686.21 548.9h1.3V574.8h-1.3zM696.13 551.3h3.3V595.6h-3.3zM697.13 544.1h1.3V604.0h-1.3zM703.40 549.2h3.3V562.4h-3.3zM704.40 544.9h1.3V570.0h-1.3zM710.68 520.6h3.3V550.1h-3.3zM711.68 514.1h1.3V550.7h-1.3zM714.32 505.2h3.3V520.6h-3.3zM715.32 489.1h1.3V530.8h-1.3zM717.95 504.4h3.3V505.4h-3.3zM718.95 483.3h1.3V510.5h-1.3zM728.87 584.6h3.3V587.2h-3.3zM729.87 580.2h1.3V636.6h-1.3zM743.42 577.3h3.3V612.6h-3.3zM744.42 569.2h1.3V624.8h-1.3zM747.06 569.5h3.3V577.3h-3.3zM748.06 567.6h1.3V585.4h-1.3zM757.97 609.4h3.3V618.4h-3.3zM758.97 605.3h1.3V619.4h-1.3zM768.89 626.7h3.3V633.3h-3.3zM769.89 600.0h1.3V639.3h-1.3zM772.52 616.2h3.3V626.7h-3.3zM773.52 611.0h1.3V631.7h-1.3zM776.16 593.5h3.3V616.2h-3.3zM777.16 585.1h1.3V617.8h-1.3zM779.80 581.3h3.3V593.5h-3.3zM780.80 572.9h1.3V600.4h-1.3zM783.44 580.2h3.3V581.3h-3.3zM784.44 575.0h1.3V585.9h-1.3zM787.08 578.6h3.3V580.2h-3.3zM788.08 574.0h1.3V588.3h-1.3zM790.71 542.4h3.3V578.6h-3.3zM791.71 539.4h1.3V582.6h-1.3zM805.27 613.3h3.3V634.6h-3.3zM806.27 603.2h1.3V636.9h-1.3zM819.82 596.5h3.3V615.5h-3.3zM820.82 590.2h1.3V616.9h-1.3zM823.46 558.2h3.3V596.5h-3.3zM824.46 557.0h1.3V597.5h-1.3zM830.73 524.7h3.3V563.5h-3.3zM831.73 506.8h1.3V564.1h-1.3zM834.37 519.6h3.3V524.7h-3.3zM835.37 514.8h1.3V539.6h-1.3zM841.65 542.9h3.3V551.5h-3.3zM842.65 472.8h1.3V568.0h-1.3zM845.28 505.4h3.3V542.9h-3.3zM846.28 494.9h1.3V562.1h-1.3zM852.56 526.4h3.3V527.7h-3.3zM853.56 497.8h1.3V551.0h-1.3zM856.20 516.8h3.3V526.4h-3.3zM857.20 494.9h1.3V536.2h-1.3zM874.39 528.4h3.3V550.7h-3.3zM875.39 517.9h1.3V551.5h-1.3zM878.03 517.9h3.3V528.4h-3.3zM879.03 500.8h1.3V531.5h-1.3zM892.58 550.5h3.3V585.6h-3.3zM893.58 538.6h1.3V645.8h-1.3zM914.41 596.1h3.3V597.1h-3.3zM915.41 588.0h1.3V612.8h-1.3zM918.04 587.1h3.3V596.1h-3.3zM919.04 577.7h1.3V607.7h-1.3zM925.32 583.7h3.3V603.4h-3.3zM926.32 580.5h1.3V619.1h-1.3zM932.60 586.3h3.3V595.4h-3.3zM933.60 574.3h1.3V598.2h-1.3zM936.23 585.9h3.3V586.9h-3.3zM937.23 582.1h1.3V589.5h-1.3zM950.79 595.2h3.3V603.8h-3.3zM951.79 592.7h1.3V610.0h-1.3zM954.42 579.4h3.3V595.2h-3.3zM955.42 574.8h1.3V596.9h-1.3zM961.70 596.9h3.3V599.0h-3.3zM962.70 591.6h1.3V602.8h-1.3zM979.89 710.7h3.3V714.0h-3.3zM980.89 687.1h1.3V728.6h-1.3zM987.17 696.8h3.3V713.4h-3.3zM988.17 691.7h1.3V718.0h-1.3zM990.80 618.4h3.3V696.8h-3.3zM991.80 611.2h1.3V706.5h-1.3zM998.08 685.4h3.3V694.4h-3.3zM999.08 669.0h1.3V739.7h-1.3zM1001.72 653.8h3.3V685.4h-3.3zM1002.72 649.1h1.3V692.8h-1.3zM1023.55 725.8h3.3V767.1h-3.3zM1024.55 720.2h1.3V785.5h-1.3zM1027.18 719.1h3.3V725.8h-3.3zM1028.18 711.7h1.3V747.5h-1.3zM1034.46 716.4h3.3V743.5h-3.3zM1035.46 703.9h1.3V745.4h-1.3zM1038.10 713.2h3.3V716.4h-3.3zM1039.10 708.6h1.3V718.0h-1.3zM1045.37 716.4h3.3V729.2h-3.3zM1046.37 709.0h1.3V730.1h-1.3zM1052.65 689.6h3.3V728.2h-3.3zM1053.65 686.4h1.3V729.6h-1.3zM1067.20 696.2h3.3V717.7h-3.3zM1068.20 694.9h1.3V718.5h-1.3zM1070.84 682.2h3.3V696.2h-3.3zM1071.84 669.9h1.3V700.7h-1.3zM1081.75 685.5h3.3V688.5h-3.3zM1082.75 680.0h1.3V698.1h-1.3zM1096.31 729.7h3.3V731.5h-3.3zM1097.31 715.9h1.3V741.9h-1.3zM1099.94 705.4h3.3V729.7h-3.3zM1100.94 700.7h1.3V730.5h-1.3zM1107.22 724.4h3.3V730.2h-3.3zM1108.22 715.9h1.3V741.5h-1.3zM1110.86 717.6h3.3V724.4h-3.3zM1111.86 708.8h1.3V737.5h-1.3zM1121.77 762.6h3.3V769.6h-3.3zM1122.77 742.8h1.3V806.7h-1.3zM1129.05 730.2h3.3V789.5h-3.3zM1130.05 720.1h1.3V806.0h-1.3zM1136.32 722.4h3.3V758.7h-3.3zM1137.32 713.2h1.3V763.9h-1.3zM1139.96 704.3h3.3V722.4h-3.3zM1140.96 698.1h1.3V726.6h-1.3zM1147.24 710.3h3.3V718.5h-3.3zM1148.24 699.1h1.3V719.2h-1.3zM1154.51 715.6h3.3V719.3h-3.3zM1155.51 702.3h1.3V723.7h-1.3zM1158.15 707.5h3.3V715.6h-3.3zM1159.15 702.3h1.3V717.6h-1.3zM1165.43 705.4h3.3V711.7h-3.3zM1166.43 700.2h1.3V712.7h-1.3zM1169.07 704.3h3.3V705.4h-3.3zM1170.07 703.0h1.3V715.6h-1.3zM1172.70 682.2h3.3V704.3h-3.3zM1173.70 673.2h1.3V705.1h-1.3zM1176.34 625.2h3.3V682.2h-3.3zM1177.34 620.8h1.3V685.6h-1.3zM1179.98 623.1h3.3V625.2h-3.3zM1180.98 614.0h1.3V639.1h-1.3zM1183.62 620.5h3.3V623.1h-3.3zM1184.62 616.7h1.3V641.9h-1.3zM1187.26 614.3h3.3V620.5h-3.3zM1188.26 602.8h1.3V631.3h-1.3zM1190.89 613.0h3.3V614.3h-3.3zM1191.89 607.8h1.3V620.8h-1.3zM1198.17 610.6h3.3V622.3h-3.3zM1199.17 604.1h1.3V630.7h-1.3zM1209.08 596.2h3.3V617.9h-3.3zM1210.08 586.9h1.3V619.0h-1.3zM1212.72 592.0h3.3V596.2h-3.3zM1213.72 583.2h1.3V597.2h-1.3zM1223.64 613.4h3.3V617.3h-3.3zM1224.64 607.8h1.3V624.2h-1.3zM1227.27 592.9h3.3V613.4h-3.3zM1228.27 591.6h1.3V625.7h-1.3zM1230.91 591.4h3.3V592.9h-3.3zM1231.91 585.1h1.3V602.8h-1.3zM1234.55 531.4h3.3V591.4h-3.3zM1235.55 523.9h1.3V592.1h-1.3zM1241.83 516.8h3.3V534.7h-3.3zM1242.83 514.6h1.3V536.2h-1.3zM1252.74 523.6h3.3V536.6h-3.3zM1253.74 515.2h1.3V548.7h-1.3zM1260.02 527.7h3.3V529.7h-3.3zM1261.02 523.2h1.3V548.7h-1.3zM1270.93 501.2h3.3V532.5h-3.3zM1271.93 498.9h1.3V533.2h-1.3zM1278.21 497.5h3.3V509.8h-3.3zM1279.21 493.4h1.3V522.1h-1.3zM1281.84 470.6h3.3V497.5h-3.3zM1282.84 460.5h1.3V503.9h-1.3zM1285.48 450.3h3.3V470.6h-3.3zM1286.48 448.2h1.3V473.9h-1.3zM1292.76 488.5h3.3V492.5h-3.3zM1293.76 471.9h1.3V497.0h-1.3zM1296.40 476.2h3.3V488.5h-3.3zM1297.40 473.4h1.3V499.0h-1.3zM1300.03 472.6h3.3V476.2h-3.3zM1301.03 463.1h1.3V479.3h-1.3zM1318.22 518.4h3.3V524.8h-3.3zM1319.22 515.0h1.3V532.8h-1.3zM1321.86 508.1h3.3V518.4h-3.3zM1322.86 506.2h1.3V526.2h-1.3zM1325.50 506.1h3.3V508.1h-3.3zM1326.50 505.1h1.3V527.0h-1.3zM1340.05 521.5h3.3V548.6h-3.3zM1341.05 511.6h1.3V551.6h-1.3zM1343.69 509.1h3.3V521.5h-3.3zM1344.69 506.2h1.3V524.7h-1.3zM1347.33 507.6h3.3V509.1h-3.3zM1348.33 500.1h1.3V513.9h-1.3zM1350.97 464.5h3.3V507.6h-3.3zM1351.97 462.3h1.3V510.8h-1.3zM1365.52 504.2h3.3V508.5h-3.3zM1366.52 503.1h1.3V535.9h-1.3zM1372.79 509.1h3.3V510.5h-3.3zM1373.79 504.2h1.3V519.0h-1.3zM1376.43 498.4h3.3V509.1h-3.3zM1377.43 477.4h1.3V515.0h-1.3zM1383.71 516.8h3.3V519.8h-3.3zM1384.71 509.3h1.3V528.8h-1.3zM1401.90 512.7h3.3V553.2h-3.3zM1402.90 505.1h1.3V565.8h-1.3zM1405.54 504.5h3.3V512.7h-3.3zM1406.54 502.1h1.3V518.5h-1.3zM1409.17 493.0h3.3V504.5h-3.3zM1410.17 484.7h1.3V506.3h-1.3zM1416.45 494.7h3.3V496.6h-3.3zM1417.45 488.1h1.3V501.2h-1.3zM1420.09 493.6h3.3V494.7h-3.3zM1421.09 490.2h1.3V497.0h-1.3zM1423.73 482.3h3.3V493.6h-3.3zM1424.73 480.8h1.3V494.4h-1.3zM1434.64 478.6h3.3V508.5h-3.3zM1435.64 470.1h1.3V514.0h-1.3zM1438.28 471.4h3.3V478.6h-3.3zM1439.28 462.1h1.3V480.8h-1.3zM1445.55 484.5h3.3V486.1h-3.3zM1446.55 482.5h1.3V488.5h-1.3zM1449.19 474.8h3.3V484.5h-3.3zM1450.19 470.1h1.3V488.5h-1.3zM1456.47 477.2h3.3V484.4h-3.3zM1457.47 474.8h1.3V491.0h-1.3zM1460.11 456.1h3.3V477.2h-3.3zM1461.11 448.5h1.3V483.0h-1.3zM1463.74 409.7h3.3V456.1h-3.3zM1464.74 402.0h1.3V457.0h-1.3zM1467.38 396.1h3.3V409.7h-3.3zM1468.38 383.3h1.3V417.3h-1.3zM1474.66 380.7h3.3V396.6h-3.3zM1475.66 376.5h1.3V398.3h-1.3zM1478.30 373.9h3.3V380.7h-3.3zM1479.30 341.3h1.3V382.1h-1.3zM1485.57 385.8h3.3V393.7h-3.3zM1486.57 371.0h1.3V400.0h-1.3zM1489.21 379.9h3.3V385.8h-3.3zM1490.21 362.5h1.3V394.9h-1.3zM1503.76 396.1h3.3V397.1h-3.3zM1504.76 375.3h1.3V404.2h-1.3zM1507.40 371.4h3.3V396.1h-3.3zM1508.40 369.3h1.3V408.1h-1.3zM1521.95 392.7h3.3V394.2h-3.3zM1522.95 388.9h1.3V399.1h-1.3zM1525.59 377.9h3.3V392.7h-3.3zM1526.59 373.6h1.3V393.5h-1.3zM1551.06 427.8h3.3V444.1h-3.3zM1552.06 421.9h1.3V449.0h-1.3zM1554.69 419.6h3.3V427.8h-3.3zM1555.69 412.1h1.3V428.5h-1.3zM1561.97 420.7h3.3V429.3h-3.3zM1562.97 413.1h1.3V435.2h-1.3zM1565.61 395.8h3.3V420.7h-3.3zM1566.61 394.2h1.3V426.5h-1.3zM1576.52 378.5h3.3V405.9h-3.3zM1577.52 377.7h1.3V407.0h-1.3zM1583.80 370.3h3.3V385.6h-3.3zM1584.80 369.0h1.3V389.6h-1.3zM1587.44 340.3h3.3V370.3h-3.3zM1588.44 337.2h1.3V382.4h-1.3zM1598.35 395.4h3.3V397.0h-3.3zM1599.35 391.1h1.3V397.8h-1.3zM1612.90 426.2h3.3V439.8h-3.3zM1613.90 423.5h1.3V444.4h-1.3zM1620.18 401.6h3.3V442.9h-3.3zM1621.18 396.2h1.3V451.6h-1.3zM1634.73 450.9h3.3V466.3h-3.3zM1635.73 444.4h1.3V479.4h-1.3zM1642.01 443.2h3.3V456.0h-3.3zM1643.01 434.2h1.3V458.6h-1.3zM1649.28 478.1h3.3V483.7h-3.3zM1650.28 476.7h1.3V492.1h-1.3zM1656.56 474.4h3.3V484.4h-3.3zM1657.56 468.5h1.3V493.1h-1.3zM1660.20 455.5h3.3V474.4h-3.3zM1661.20 450.3h1.3V482.3h-1.3zM1663.83 451.3h3.3V455.5h-3.3zM1664.83 443.2h1.3V462.1h-1.3zM1678.39 456.7h3.3V466.2h-3.3zM1679.39 452.3h1.3V466.7h-1.3zM1682.02 447.6h3.3V456.7h-3.3zM1683.02 439.2h1.3V461.0h-1.3zM1689.30 429.8h3.3V452.8h-3.3zM1690.30 426.2h1.3V458.3h-1.3zM1692.94 415.6h3.3V429.8h-3.3zM1693.94 414.8h1.3V434.4h-1.3zM1696.58 409.4h3.3V415.6h-3.3zM1697.58 403.1h1.3V421.1h-1.3zM1707.49 415.4h3.3V417.7h-3.3zM1708.49 402.3h1.3V424.7h-1.3zM1711.13 400.9h3.3V415.4h-3.3zM1712.13 400.1h1.3V421.1h-1.3zM1718.40 399.5h3.3V406.1h-3.3zM1719.40 391.3h1.3V408.3h-1.3zM1725.68 412.4h3.3V413.8h-3.3zM1726.68 408.3h1.3V415.4h-1.3zM1740.23 435.8h3.3V447.1h-3.3zM1741.23 429.2h1.3V456.2h-1.3zM1747.51 470.3h3.3V476.6h-3.3zM1748.51 464.4h1.3V480.1h-1.3zM1751.15 469.8h3.3V470.8h-3.3zM1752.15 468.9h1.3V474.6h-1.3zM1754.78 446.5h3.3V469.8h-3.3zM1755.78 444.3h1.3V473.8h-1.3zM1758.42 425.6h3.3V446.5h-3.3zM1759.42 424.5h1.3V451.9h-1.3zM1765.70 385.5h3.3V428.8h-3.3zM1766.70 384.5h1.3V429.2h-1.3zM1769.34 367.2h3.3V385.5h-3.3zM1770.34 361.5h1.3V387.1h-1.3zM1772.97 349.9h3.3V367.2h-3.3zM1773.97 334.3h1.3V378.3h-1.3zM1776.61 349.0h3.3V350.0h-3.3zM1777.61 344.5h1.3V356.2h-1.3zM1780.25 338.8h3.3V349.0h-3.3zM1781.25 317.6h1.3V351.6h-1.3zM1783.89 328.0h3.3V338.8h-3.3zM1784.89 312.7h1.3V341.4h-1.3zM1791.16 339.9h3.3V358.8h-3.3zM1792.16 331.5h1.3V361.5h-1.3zM1805.72 419.7h3.3V459.7h-3.3zM1806.72 411.1h1.3V469.8h-1.3zM1809.35 417.9h3.3V419.7h-3.3zM1810.35 409.3h1.3V430.9h-1.3z"/>
<path fill="#ff8286" d="M37.65 865.7h3.3V880.3h-3.3zM38.65 864.3h1.3V884.3h-1.3zM41.29 880.3h3.3V887.2h-3.3zM42.29 874.5h1.3V896.4h-1.3zM52.20 882.1h3.3V883.3h-3.3zM53.20 875.2h1.3V895.4h-1.3zM55.84 883.3h3.3V896.4h-3.3zM56.84 881.4h1.3V905.6h-1.3zM59.48 896.4h3.3V898.3h-3.3zM60.48 890.5h1.3V899.3h-1.3zM63.11 898.3h3.3V899.3h-3.3zM64.11 882.5h1.3V901.5h-1.3zM66.75 898.6h3.3V905.9h-3.3zM67.75 895.9h1.3V912.4h-1.3zM74.03 904.7h3.3V915.4h-3.3zM75.03 901.2h1.3V915.8h-1.3zM77.67 915.4h3.3V942.3h-3.3zM78.67 912.4h1.3V958.4h-1.3zM84.94 927.0h3.3V937.2h-3.3zM85.94 920.5h1.3V937.7h-1.3zM92.22 928.5h3.3V942.3h-3.3zM93.22 924.5h1.3V944.5h-1.3zM106.77 917.2h3.3V926.6h-3.3zM107.77 913.5h1.3V927.5h-1.3zM110.41 926.6h3.3V943.8h-3.3zM111.41 923.4h1.3V949.9h-1.3zM114.05 943.8h3.3V974.4h-3.3zM115.05 940.6h1.3V975.2h-1.3zM117.68 974.4h3.3V976.3h-3.3zM118.68 968.6h1.3V1006.2h-1.3zM124.96 960.9h3.3V984.4h-3.3zM125.96 959.1h1.3V984.9h-1.3zM135.87 962.3h3.3V966.9h-3.3zM136.87 948.9h1.3V971.2h-1.3zM139.51 966.9h3.3V970.1h-3.3zM140.51 948.9h1.3V972.3h-1.3zM161.34 897.0h3.3V905.9h-3.3zM162.34 885.3h1.3V907.1h-1.3zM164.98 905.9h3.3V907.1h-3.3zM165.98 895.4h1.3V913.2h-1.3zM179.53 866.5h3.3V873.1h-3.3zM180.53 863.2h1.3V881.5h-1.3zM183.17 873.1h3.3V887.9h-3.3zM184.17 870.5h1.3V892.3h-1.3zM186.81 887.9h3.3V893.7h-3.3zM187.81 876.6h1.3V895.4h-1.3zM205.00 866.1h3.3V880.6h-3.3zM206.00 848.4h1.3V881.8h-1.3zM208.63 880.6h3.3V886.2h-3.3zM209.63 877.5h1.3V893.1h-1.3zM212.27 886.2h3.3V901.0h-3.3zM213.27 879.7h1.3V901.3h-1.3zM219.55 893.5h3.3V931.5h-3.3zM220.55 890.9h1.3V932.0h-1.3zM223.19 931.5h3.3V939.0h-3.3zM224.19 925.0h1.3V945.9h-1.3zM226.82 939.0h3.3V962.8h-3.3zM227.82 934.4h1.3V969.8h-1.3zM230.46 962.8h3.3V1002.9h-3.3zM231.46 960.2h1.3V1048.2h-1.3zM237.74 982.9h3.3V990.7h-3.3zM238.74 966.3h1.3V995.9h-1.3zM245.01 925.7h3.3V937.2h-3.3zM246.01 925.7h1.3V948.4h-1.3zM252.29 934.9h3.3V956.7h-3.3zM253.29 928.0h1.3V960.2h-1.3zM263.20 938.8h3.3V957.1h-3.3zM264.20 928.0h1.3V958.5h-1.3zM266.84 957.1h3.3V968.0h-3.3zM267.84 945.4h1.3V981.1h-1.3zM277.76 949.2h3.3V959.9h-3.3zM278.76 941.0h1.3V960.6h-1.3zM285.03 950.1h3.3V954.1h-3.3zM286.03 931.5h1.3V957.1h-1.3zM292.31 933.5h3.3V941.0h-3.3zM293.31 930.7h1.3V946.5h-1.3zM306.86 903.4h3.3V918.2h-3.3zM307.86 901.1h1.3V918.6h-1.3zM310.50 918.2h3.3V950.1h-3.3zM311.50 914.1h1.3V962.3h-1.3zM314.14 950.1h3.3V953.7h-3.3zM315.14 942.6h1.3V964.4h-1.3zM321.41 950.6h3.3V953.0h-3.3zM322.41 945.2h1.3V965.3h-1.3zM325.05 953.0h3.3V955.3h-3.3zM326.05 950.1h1.3V956.2h-1.3zM328.69 955.3h3.3V970.9h-3.3zM329.69 953.6h1.3V971.4h-1.3zM335.96 951.9h3.3V968.9h-3.3zM336.96 946.5h1.3V969.6h-1.3zM343.24 963.6h3.3V981.0h-3.3zM344.24 960.5h1.3V985.1h-1.3zM346.88 981.0h3.3V1002.6h-3.3zM347.88 973.4h1.3V1014.9h-1.3zM365.07 966.4h3.3V969.8h-3.3zM366.07 963.1h1.3V986.0h-1.3zM375.98 939.6h3.3V945.2h-3.3zM376.98 938.1h1.3V947.8h-1.3zM379.62 945.2h3.3V952.7h-3.3zM380.62 940.7h1.3V956.2h-1.3zM383.26 952.7h3.3V961.8h-3.3zM384.26 951.7h1.3V968.3h-1.3zM408.72 911.1h3.3V912.8h-3.3zM409.72 899.6h1.3V919.5h-1.3zM416.00 903.7h3.3V914.6h-3.3zM417.00 898.9h1.3V916.4h-1.3zM430.55 888.2h3.3V891.3h-3.3zM431.55 886.5h1.3V892.6h-1.3zM434.19 891.3h3.3V913.1h-3.3zM435.19 890.1h1.3V916.4h-1.3zM437.83 913.1h3.3V937.9h-3.3zM438.83 906.9h1.3V941.6h-1.3zM441.47 937.9h3.3V939.0h-3.3zM442.47 922.2h1.3V943.6h-1.3zM452.38 924.7h3.3V925.7h-3.3zM453.38 921.5h1.3V928.0h-1.3zM459.66 917.4h3.3V924.1h-3.3zM460.66 902.2h1.3V925.1h-1.3zM463.29 924.1h3.3V925.1h-3.3zM464.29 914.2h1.3V926.6h-1.3zM466.93 924.4h3.3V938.7h-3.3zM467.93 920.0h1.3V941.6h-1.3zM470.57 938.7h3.3V941.6h-3.3zM471.57 931.7h1.3V954.3h-1.3zM481.48 914.8h3.3V918.3h-3.3zM482.48 913.9h1.3V925.5h-1.3zM496.04 871.9h3.3V873.8h-3.3zM497.04 868.2h1.3V880.6h-1.3zM503.31 864.1h3.3V865.1h-3.3zM504.31 861.7h1.3V867.5h-1.3zM510.59 859.0h3.3V875.2h-3.3zM511.59 853.2h1.3V879.5h-1.3zM517.86 873.6h3.3V882.5h-3.3zM518.86 873.3h1.3V894.5h-1.3zM525.14 866.6h3.3V881.8h-3.3zM526.14 861.4h1.3V891.6h-1.3zM543.33 823.8h3.3V827.1h-3.3zM544.33 820.8h1.3V835.1h-1.3zM546.97 827.1h3.3V847.3h-3.3zM547.97 823.8h1.3V852.4h-1.3zM550.61 847.3h3.3V855.0h-3.3zM551.61 835.2h1.3V860.7h-1.3zM554.24 855.0h3.3V857.5h-3.3zM555.24 850.5h1.3V858.5h-1.3zM557.88 857.5h3.3V861.1h-3.3zM558.88 854.9h1.3V873.4h-1.3zM561.52 861.1h3.3V869.9h-3.3zM562.52 854.9h1.3V879.7h-1.3zM590.62 671.3h3.3V677.7h-3.3zM591.62 658.0h1.3V703.7h-1.3zM597.90 654.6h3.3V683.6h-3.3zM598.90 640.1h1.3V688.8h-1.3zM605.18 648.6h3.3V653.1h-3.3zM606.18 640.8h1.3V656.7h-1.3zM608.81 653.1h3.3V659.6h-3.3zM609.81 644.0h1.3V669.6h-1.3zM630.64 572.4h3.3V584.7h-3.3zM631.64 571.6h1.3V588.9h-1.3zM637.92 582.5h3.3V629.6h-3.3zM638.92 573.2h1.3V632.0h-1.3zM641.56 629.6h3.3V640.5h-3.3zM642.56 611.0h1.3V651.0h-1.3zM648.83 603.5h3.3V604.5h-3.3zM649.83 595.1h1.3V612.6h-1.3zM656.11 587.3h3.3V597.7h-3.3zM657.11 586.7h1.3V600.0h-1.3zM663.38 589.7h3.3V602.6h-3.3zM664.38 579.7h1.3V614.9h-1.3zM667.02 602.6h3.3V603.6h-3.3zM668.02 597.5h1.3V623.9h-1.3zM674.30 575.2h3.3V591.5h-3.3zM675.30 536.8h1.3V640.1h-1.3zM688.85 551.3h3.3V588.3h-3.3zM689.85 550.5h1.3V617.8h-1.3zM692.49 588.3h3.3V595.6h-3.3zM693.49 578.9h1.3V617.0h-1.3zM699.76 551.3h3.3V562.4h-3.3zM700.76 538.4h1.3V569.2h-1.3zM707.04 549.2h3.3V550.2h-3.3zM708.04 537.3h1.3V556.7h-1.3zM721.59 504.4h3.3V561.7h-3.3zM722.59 501.1h1.3V562.4h-1.3zM725.23 561.7h3.3V587.2h-3.3zM726.23 536.1h1.3V603.7h-1.3zM732.51 584.6h3.3V589.3h-3.3zM733.51 568.0h1.3V596.4h-1.3zM736.14 589.3h3.3V609.8h-3.3zM737.14 587.5h1.3V617.8h-1.3zM739.78 609.8h3.3V612.6h-3.3zM740.78 597.2h1.3V635.0h-1.3zM750.70 569.5h3.3V604.5h-3.3zM751.70 564.0h1.3V608.6h-1.3zM754.33 604.5h3.3V618.4h-3.3zM755.33 588.0h1.3V625.9h-1.3zM761.61 609.4h3.3V624.4h-3.3zM762.61 608.6h1.3V630.8h-1.3zM765.25 624.4h3.3V633.3h-3.3zM766.25 612.3h1.3V644.7h-1.3zM794.35 542.4h3.3V591.5h-3.3zM795.35 536.8h1.3V598.8h-1.3zM797.99 591.5h3.3V610.3h-3.3zM798.99 589.1h1.3V633.7h-1.3zM801.63 610.3h3.3V634.6h-3.3zM802.63 607.4h1.3V646.6h-1.3zM808.90 613.3h3.3V614.5h-3.3zM809.90 609.7h1.3V622.0h-1.3zM812.54 614.5h3.3V615.5h-3.3zM813.54 606.7h1.3V623.0h-1.3zM816.18 615.2h3.3V616.2h-3.3zM817.18 602.1h1.3V665.0h-1.3zM827.09 558.2h3.3V563.5h-3.3zM828.09 553.9h1.3V587.6h-1.3zM838.01 519.6h3.3V551.5h-3.3zM839.01 502.9h1.3V567.2h-1.3zM848.92 505.4h3.3V527.7h-3.3zM849.92 501.7h1.3V531.1h-1.3zM859.84 516.8h3.3V517.9h-3.3zM860.84 511.9h1.3V523.3h-1.3zM863.47 517.9h3.3V538.3h-3.3zM864.47 509.7h1.3V539.1h-1.3zM867.11 538.3h3.3V543.4h-3.3zM868.11 531.8h1.3V584.2h-1.3zM870.75 543.4h3.3V550.7h-3.3zM871.75 526.7h1.3V560.1h-1.3zM881.66 517.9h3.3V539.3h-3.3zM882.66 504.6h1.3V547.1h-1.3zM885.30 539.3h3.3V557.5h-3.3zM886.30 535.7h1.3V560.4h-1.3zM888.94 557.5h3.3V585.6h-3.3zM889.94 548.5h1.3V599.2h-1.3zM896.22 550.5h3.3V583.0h-3.3zM897.22 545.1h1.3V598.7h-1.3zM899.85 583.0h3.3V595.4h-3.3zM900.85 570.9h1.3V599.2h-1.3zM903.49 595.4h3.3V596.4h-3.3zM904.49 570.9h1.3V604.3h-1.3zM907.13 596.1h3.3V597.1h-3.3zM908.13 560.7h1.3V604.3h-1.3zM910.77 596.6h3.3V597.6h-3.3zM911.77 591.9h1.3V603.8h-1.3zM921.68 587.1h3.3V603.4h-3.3zM922.68 577.1h1.3V611.1h-1.3zM928.96 583.7h3.3V595.4h-3.3zM929.96 580.8h1.3V607.7h-1.3zM939.87 585.9h3.3V600.3h-3.3zM940.87 583.2h1.3V601.5h-1.3zM943.51 600.3h3.3V603.2h-3.3zM944.51 590.6h1.3V607.8h-1.3zM947.15 603.2h3.3V604.2h-3.3zM948.15 593.7h1.3V626.0h-1.3zM958.06 579.4h3.3V599.0h-3.3zM959.06 567.0h1.3V610.6h-1.3zM965.34 596.9h3.3V598.2h-3.3zM966.34 595.2h1.3V607.8h-1.3zM968.98 598.2h3.3V643.9h-3.3zM969.98 595.8h1.3V644.9h-1.3zM972.61 643.9h3.3V671.3h-3.3zM973.61 633.8h1.3V695.9h-1.3zM976.25 671.3h3.3V714.0h-3.3zM977.25 664.7h1.3V732.8h-1.3zM983.53 710.7h3.3V713.4h-3.3zM984.53 706.0h1.3V770.7h-1.3zM994.44 618.4h3.3V694.4h-3.3zM995.44 615.9h1.3V704.3h-1.3zM1005.36 653.8h3.3V659.3h-3.3zM1006.36 631.0h1.3V679.1h-1.3zM1008.99 659.3h3.3V689.2h-3.3zM1009.99 645.8h1.3V708.6h-1.3zM1012.63 689.2h3.3V695.1h-3.3zM1013.63 687.5h1.3V703.9h-1.3zM1016.27 695.1h3.3V747.1h-3.3zM1017.27 691.7h1.3V753.9h-1.3zM1019.91 747.1h3.3V767.1h-3.3zM1020.91 714.9h1.3V777.7h-1.3zM1030.82 719.1h3.3V743.5h-3.3zM1031.82 713.2h1.3V754.9h-1.3zM1041.74 713.2h3.3V729.2h-3.3zM1042.74 705.4h1.3V734.9h-1.3zM1049.01 716.4h3.3V728.2h-3.3zM1050.01 714.9h1.3V742.7h-1.3zM1056.29 689.6h3.3V713.3h-3.3zM1057.29 682.9h1.3V718.8h-1.3zM1059.93 713.3h3.3V715.3h-3.3zM1060.93 708.3h1.3V723.7h-1.3zM1063.56 715.3h3.3V717.7h-3.3zM1064.56 711.1h1.3V719.2h-1.3zM1074.48 682.2h3.3V683.2h-3.3zM1075.48 671.9h1.3V692.6h-1.3zM1078.12 682.9h3.3V688.5h-3.3zM1079.12 675.1h1.3V697.5h-1.3zM1085.39 685.5h3.3V712.4h-3.3zM1086.39 681.9h1.3V719.7h-1.3zM1089.03 712.4h3.3V729.5h-3.3zM1090.03 709.9h1.3V737.5h-1.3zM1092.67 729.5h3.3V731.5h-3.3zM1093.67 720.1h1.3V738.6h-1.3zM1103.58 705.4h3.3V730.2h-3.3zM1104.58 673.2h1.3V731.0h-1.3zM1114.50 717.6h3.3V720.5h-3.3zM1115.50 713.2h1.3V731.0h-1.3zM1118.13 720.5h3.3V769.6h-3.3zM1119.13 718.0h1.3V780.8h-1.3zM1125.41 762.6h3.3V789.5h-3.3zM1126.41 745.6h1.3V790.2h-1.3zM1132.69 730.2h3.3V758.7h-3.3zM1133.69 728.2h1.3V768.8h-1.3zM1143.60 704.3h3.3V718.5h-3.3zM1144.60 695.8h1.3V725.0h-1.3zM1150.88 710.3h3.3V719.3h-3.3zM1151.88 692.1h1.3V720.1h-1.3zM1161.79 707.5h3.3V711.7h-3.3zM1162.79 705.1h1.3V712.7h-1.3zM1194.53 613.0h3.3V622.3h-3.3zM1195.53 607.1h1.3V623.3h-1.3zM1201.81 610.6h3.3V617.3h-3.3zM1202.81 605.9h1.3V622.3h-1.3zM1205.45 617.3h3.3V618.3h-3.3zM1206.45 607.8h1.3V629.8h-1.3zM1216.36 592.0h3.3V602.4h-3.3zM1217.36 591.0h1.3V603.3h-1.3zM1220.00 602.4h3.3V617.3h-3.3zM1221.00 597.7h1.3V618.2h-1.3zM1238.19 531.4h3.3V534.7h-3.3zM1239.19 520.8h1.3V540.0h-1.3zM1245.46 516.8h3.3V523.6h-3.3zM1246.46 514.2h1.3V530.6h-1.3zM1249.10 523.6h3.3V536.6h-3.3zM1250.10 507.1h1.3V555.2h-1.3zM1256.38 523.6h3.3V529.7h-3.3zM1257.38 521.3h1.3V538.1h-1.3zM1263.65 527.7h3.3V529.1h-3.3zM1264.65 518.9h1.3V531.9h-1.3zM1267.29 529.1h3.3V532.5h-3.3zM1268.29 526.9h1.3V537.0h-1.3zM1274.57 501.2h3.3V509.8h-3.3zM1275.57 493.7h1.3V541.8h-1.3zM1289.12 450.3h3.3V492.5h-3.3zM1290.12 449.7h1.3V497.0h-1.3zM1303.67 472.6h3.3V477.4h-3.3zM1304.67 459.3h1.3V490.0h-1.3zM1307.31 477.4h3.3V488.2h-3.3zM1308.31 474.3h1.3V497.0h-1.3zM1310.95 488.2h3.3V510.1h-3.3zM1311.95 477.4h1.3V510.8h-1.3zM1314.59 510.1h3.3V524.8h-3.3zM1315.59 502.1h1.3V527.8h-1.3zM1329.14 506.1h3.3V511.3h-3.3zM1330.14 497.0h1.3V515.9h-1.3zM1332.78 511.3h3.3V517.5h-3.3zM1333.78 505.1h1.3V522.1h-1.3zM1336.41 517.5h3.3V548.6h-3.3zM1337.41 506.2h1.3V557.8h-1.3zM1354.60 464.5h3.3V465.5h-3.3zM1355.60 463.6h1.3V482.0h-1.3zM1358.24 464.8h3.3V480.5h-3.3zM1359.24 463.6h1.3V485.1h-1.3zM1361.88 480.5h3.3V508.5h-3.3zM1362.88 478.0h1.3V509.3h-1.3zM1369.16 504.2h3.3V510.5h-3.3zM1370.16 503.6h1.3V521.1h-1.3zM1380.07 498.4h3.3V519.8h-3.3zM1381.07 488.2h1.3V529.8h-1.3zM1387.35 516.8h3.3V519.0h-3.3zM1388.35 513.1h1.3V524.7h-1.3zM1390.98 519.0h3.3V531.3h-3.3zM1391.98 500.1h1.3V539.6h-1.3zM1394.62 531.3h3.3V542.4h-3.3zM1395.62 524.2h1.3V553.9h-1.3zM1398.26 542.4h3.3V553.2h-3.3zM1399.26 530.1h1.3V579.0h-1.3zM1412.81 493.0h3.3V496.6h-3.3zM1413.81 483.0h1.3V499.5h-1.3zM1427.36 482.3h3.3V494.9h-3.3zM1428.36 479.1h1.3V498.3h-1.3zM1431.00 494.9h3.3V508.5h-3.3zM1432.00 490.2h1.3V511.9h-1.3zM1441.92 471.4h3.3V486.1h-3.3zM1442.92 468.9h1.3V493.2h-1.3zM1452.83 474.8h3.3V484.4h-3.3zM1453.83 470.1h1.3V491.0h-1.3zM1471.02 396.1h3.3V397.1h-3.3zM1472.02 388.1h1.3V401.3h-1.3zM1481.93 373.9h3.3V393.7h-3.3zM1482.93 372.4h1.3V412.2h-1.3zM1492.85 379.9h3.3V392.0h-3.3zM1493.85 363.4h1.3V401.3h-1.3zM1496.49 392.0h3.3V393.0h-3.3zM1497.49 385.5h1.3V397.4h-1.3zM1500.12 392.5h3.3V397.1h-3.3zM1501.12 382.6h1.3V404.2h-1.3zM1511.04 371.4h3.3V383.5h-3.3zM1512.04 370.2h1.3V398.3h-1.3zM1514.68 383.5h3.3V387.4h-3.3zM1515.68 376.5h1.3V399.6h-1.3zM1518.31 387.4h3.3V394.2h-3.3zM1519.31 386.0h1.3V421.8h-1.3zM1529.23 377.9h3.3V391.1h-3.3zM1530.23 373.6h1.3V396.2h-1.3zM1532.87 391.1h3.3V392.1h-3.3zM1533.87 379.6h1.3V400.8h-1.3zM1536.50 392.0h3.3V393.0h-3.3zM1537.50 383.1h1.3V412.4h-1.3zM1540.14 393.0h3.3V413.6h-3.3zM1541.14 382.4h1.3V415.2h-1.3zM1543.78 413.6h3.3V437.0h-3.3zM1544.78 409.0h1.3V441.6h-1.3zM1547.42 437.0h3.3V444.1h-3.3zM1548.42 429.3h1.3V447.8h-1.3zM1558.33 419.6h3.3V429.3h-3.3zM1559.33 418.2h1.3V441.9h-1.3zM1569.25 395.8h3.3V404.1h-3.3zM1570.25 393.9h1.3V410.1h-1.3zM1572.88 404.1h3.3V405.9h-3.3zM1573.88 391.1h1.3V407.0h-1.3zM1580.16 378.5h3.3V385.6h-3.3zM1581.16 349.3h1.3V389.6h-1.3zM1591.07 340.3h3.3V387.7h-3.3zM1592.07 329.2h1.3V398.5h-1.3zM1594.71 387.7h3.3V397.0h-3.3zM1595.71 378.2h1.3V401.3h-1.3zM1601.99 395.4h3.3V396.4h-3.3zM1602.99 385.4h1.3V398.2h-1.3zM1605.63 395.8h3.3V408.2h-3.3zM1606.63 394.2h1.3V422.4h-1.3zM1609.26 408.2h3.3V439.8h-3.3zM1610.26 402.4h1.3V440.4h-1.3zM1616.54 426.2h3.3V442.9h-3.3zM1617.54 421.3h1.3V448.1h-1.3zM1623.82 401.6h3.3V416.7h-3.3zM1624.82 400.1h1.3V424.4h-1.3zM1627.45 416.7h3.3V434.9h-3.3zM1628.45 412.7h1.3V460.4h-1.3zM1631.09 434.9h3.3V466.3h-3.3zM1632.09 432.4h1.3V474.3h-1.3zM1638.37 450.9h3.3V456.0h-3.3zM1639.37 442.4h1.3V462.9h-1.3zM1645.64 443.2h3.3V483.7h-3.3zM1646.64 441.9h1.3V491.2h-1.3zM1652.92 478.1h3.3V484.4h-3.3zM1653.92 472.1h1.3V485.5h-1.3zM1667.47 451.3h3.3V460.5h-3.3zM1668.47 446.2h1.3V473.2h-1.3zM1671.11 460.5h3.3V461.5h-3.3zM1672.11 435.2h1.3V465.1h-1.3zM1674.75 461.1h3.3V466.2h-3.3zM1675.75 455.1h1.3V467.3h-1.3zM1685.66 447.6h3.3V452.8h-3.3zM1686.66 436.4h1.3V460.2h-1.3zM1700.21 409.4h3.3V410.6h-3.3zM1701.21 406.3h1.3V417.4h-1.3zM1703.85 410.6h3.3V417.7h-3.3zM1704.85 408.3h1.3V418.6h-1.3zM1714.77 400.9h3.3V406.1h-3.3zM1715.77 397.2h1.3V421.3h-1.3zM1722.04 399.5h3.3V413.8h-3.3zM1723.04 395.2h1.3V418.2h-1.3zM1729.32 412.4h3.3V416.9h-3.3zM1730.32 411.4h1.3V417.4h-1.3zM1732.96 416.9h3.3V441.5h-3.3zM1733.96 415.2h1.3V448.3h-1.3zM1736.59 441.5h3.3V447.1h-3.3zM1737.59 435.2h1.3V452.3h-1.3zM1743.87 435.8h3.3V476.6h-3.3zM1744.87 433.3h1.3V480.1h-1.3zM1762.06 425.6h3.3V428.8h-3.3zM1763.06 421.3h1.3V441.3h-1.3zM1787.53 328.0h3.3V358.8h-3.3zM1788.53 322.7h1.3V365.6h-1.3zM1794.80 339.9h3.3V355.9h-3.3zM1795.80 335.4h1.3V374.7h-1.3zM1798.44 355.9h3.3V441.1h-3.3zM1799.44 347.5h1.3V532.7h-1.3zM1802.08 441.1h3.3V459.7h-3.3zM1803.08 434.6h1.3V469.0h-1.3zM1812.99 417.9h3.3V437.8h-3.3zM1813.99 415.3h1.3V466.9h-1.3zM1816.63 437.8h3.3V459.3h-3.3zM1817.63 432.3h1.3V464.9h-1.3z"/></g>
<rect x="1821" y="449.4" width="2" height="13.6" fill="#f0838a" opacity="0.55"/>
</svg>
<div id="hdr"><div id="logo"><span>FxPro</span></div>
<div id="sub"><span style="letter-spacing:-0.55px">Data: FxPro</span><i></i><span style="letter-spacing:-0.17px">FxPro published October 16, 2025</span></div>
<div id="ttl">Bitcoin, <span style="letter-spacing:-0.55px">Daily</span></div></div>
<div class="yl" style="top:168.1px">140,000.00</div>
<div class="yl" style="top:263.5px">130,000.00</div>
<div class="yl" style="top:359.5px">120,000.00</div>
<div class="yl" style="top:454.5px">110,000.00</div>
<div class="yl" style="top:550.5px">100,000.00</div>
<div class="yl" style="top:645.5px">90,000.00</div>
<div class="yl" style="top:740.5px">80,000.00</div>
<div class="yl" style="top:835.5px">70,000.00</div>
<div class="yl" style="top:931.5px">60,000.00</div>
<div class="yl" style="top:1026.5px">50,000.00</div>
<div class="xl" style="left:104px">Jul</div>
<div class="xl" style="left:217px">Aug</div>
<div class="xl" style="left:329px">Sep</div>
<div class="xl" style="left:438.5px">Oct</div>
<div class="xl" style="left:551.5px">Nov</div>
<div class="xl" style="left:660px">Dec</div>
<div class="xl" style="left:773.5px"><b>2025</b></div>
<div class="xl" style="left:886px">Feb</div>
<div class="xl" style="left:988px">Mar</div>
<div class="xl" style="left:1101px">Apr</div>
<div class="xl" style="left:1210px">May</div>
<div class="xl" style="left:1323px">Jun</div>
<div class="xl" style="left:1432px">Jul</div>
<div class="xl" style="left:1545px">Aug</div>
<div class="xl" style="left:1657.75px">Sep</div>
<div class="xl" style="left:1767px">Oct</div>
<div class="xl" style="left:1880px">Nov</div>
<div class="ma" style="left:1477px;top:493px;color:#1da75c">MA(50)</div>
<div class="ma" style="left:1477px;top:590px;color:#f4df2c">MA(200)</div>
</body></html>
